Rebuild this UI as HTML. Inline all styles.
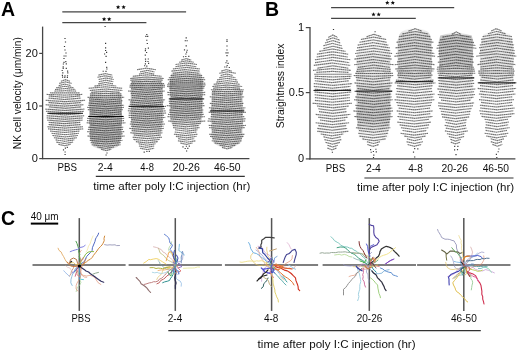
<!DOCTYPE html>
<html><head><meta charset="utf-8"><style>
html,body{margin:0;padding:0;background:#fff;}
svg{display:block;}
</style></head><body>
<svg width="520" height="352" viewBox="0 0 520 352">
<rect width="520" height="352" fill="#fff"/>
<defs><filter id="gb" x="0" y="0" width="100%" height="100%"><feGaussianBlur stdDeviation="0.3"/></filter></defs>
<g font-family='"Liberation Sans", sans-serif' filter="url(#gb)">
<text x="1.0" y="16.0" font-size="19.5" text-anchor="start" font-weight="bold" fill="#000" >A</text>
<text x="264.9" y="16.0" font-size="19.5" text-anchor="start" font-weight="bold" fill="#000" >B</text>
<text x="0.9" y="225.0" font-size="19.5" text-anchor="start" font-weight="bold" fill="#000" >C</text>
<line x1="42.6" y1="26.6" x2="42.6" y2="159.2" stroke="#444" stroke-width="1.3"/>
<line x1="42.3" y1="158.6" x2="249.4" y2="158.6" stroke="#444" stroke-width="1.3"/>
<line x1="39.2" y1="53.4" x2="42.6" y2="53.4" stroke="#444" stroke-width="1.2"/>
<text x="37.8" y="57.199999999999996" font-size="11.0" text-anchor="end" font-weight="normal" fill="#111" >20</text>
<line x1="39.2" y1="106.0" x2="42.6" y2="106.0" stroke="#444" stroke-width="1.2"/>
<text x="37.8" y="109.8" font-size="11.0" text-anchor="end" font-weight="normal" fill="#111" >10</text>
<line x1="39.2" y1="158.6" x2="42.6" y2="158.6" stroke="#444" stroke-width="1.2"/>
<text x="37.8" y="162.4" font-size="11.0" text-anchor="end" font-weight="normal" fill="#111" >0</text>
<text transform="translate(21.2,149.2) rotate(-90)" font-size="10.2" fill="#111" textLength="112" lengthAdjust="spacingAndGlyphs">NK cell velocity (μm/min)</text>
<text x="67.2" y="171.4" font-size="10.6" text-anchor="middle" font-weight="normal" fill="#111" textLength="19.5" lengthAdjust="spacingAndGlyphs" >PBS</text>
<text x="105.2" y="171.4" font-size="10.6" text-anchor="middle" font-weight="normal" fill="#111" textLength="15" lengthAdjust="spacingAndGlyphs" >2-4</text>
<text x="147.1" y="171.4" font-size="10.6" text-anchor="middle" font-weight="normal" fill="#111" textLength="13.5" lengthAdjust="spacingAndGlyphs" >4-8</text>
<text x="186.3" y="171.4" font-size="10.6" text-anchor="middle" font-weight="normal" fill="#111" textLength="27" lengthAdjust="spacingAndGlyphs" >20-26</text>
<text x="227.2" y="171.4" font-size="10.6" text-anchor="middle" font-weight="normal" fill="#111" textLength="26.6" lengthAdjust="spacingAndGlyphs" >46-50</text>
<line x1="95.8" y1="176.4" x2="244.8" y2="176.4" stroke="#333" stroke-width="1.2"/>
<text x="93.2" y="189.6" font-size="11.2" text-anchor="start" font-weight="normal" fill="#111" textLength="157.2" lengthAdjust="spacingAndGlyphs" >time after poly I:C injection (hr)</text>
<line x1="62.3" y1="11.9" x2="186.1" y2="11.9" stroke="#444" stroke-width="1.25"/>
<line x1="62.3" y1="22.7" x2="146.4" y2="22.7" stroke="#444" stroke-width="1.25"/>
<polygon points="118.10,4.90 118.71,6.36 120.29,6.49 119.08,7.52 119.45,9.06 118.10,8.23 116.75,9.06 117.12,7.52 115.91,6.49 117.49,6.36" fill="#111"/>
<polygon points="123.60,4.90 124.21,6.36 125.79,6.49 124.58,7.52 124.95,9.06 123.60,8.23 122.25,9.06 122.62,7.52 121.41,6.49 122.99,6.36" fill="#111"/>
<polygon points="104.10,16.90 104.71,18.36 106.29,18.49 105.08,19.52 105.45,21.06 104.10,20.23 102.75,21.06 103.12,19.52 101.91,18.49 103.49,18.36" fill="#111"/>
<polygon points="109.20,16.90 109.81,18.36 111.39,18.49 110.18,19.52 110.55,21.06 109.20,20.23 107.85,21.06 108.22,19.52 107.01,18.49 108.59,18.36" fill="#111"/>
<line x1="310.0" y1="27.0" x2="310.0" y2="159.4" stroke="#444" stroke-width="1.3"/>
<line x1="309.4" y1="158.9" x2="515.4" y2="158.9" stroke="#444" stroke-width="1.3"/>
<line x1="305.8" y1="27.6" x2="310.0" y2="27.6" stroke="#444" stroke-width="1.2"/>
<text x="304.2" y="31.400000000000002" font-size="11.0" text-anchor="end" font-weight="normal" fill="#111" >1</text>
<line x1="305.8" y1="92.6" x2="310.0" y2="92.6" stroke="#444" stroke-width="1.2"/>
<text x="304.2" y="96.39999999999999" font-size="11.0" text-anchor="end" font-weight="normal" fill="#111" textLength="15.4" lengthAdjust="spacingAndGlyphs" >0.5</text>
<line x1="305.8" y1="158.9" x2="310.0" y2="158.9" stroke="#444" stroke-width="1.2"/>
<text x="304.2" y="161.9" font-size="11.0" text-anchor="end" font-weight="normal" fill="#111" >0</text>
<text transform="translate(284.0,128.2) rotate(-90)" font-size="10.2" fill="#111" textLength="84.6" lengthAdjust="spacingAndGlyphs">Straightness index</text>
<text x="335.6" y="172.2" font-size="10.6" text-anchor="middle" font-weight="normal" fill="#111" textLength="19.5" lengthAdjust="spacingAndGlyphs" >PBS</text>
<text x="373.4" y="172.2" font-size="10.6" text-anchor="middle" font-weight="normal" fill="#111" textLength="15" lengthAdjust="spacingAndGlyphs" >2-4</text>
<text x="415.5" y="172.2" font-size="10.6" text-anchor="middle" font-weight="normal" fill="#111" textLength="14.5" lengthAdjust="spacingAndGlyphs" >4-8</text>
<text x="454.8" y="172.2" font-size="10.6" text-anchor="middle" font-weight="normal" fill="#111" textLength="26.5" lengthAdjust="spacingAndGlyphs" >20-26</text>
<text x="495.8" y="172.2" font-size="10.6" text-anchor="middle" font-weight="normal" fill="#111" textLength="26.3" lengthAdjust="spacingAndGlyphs" >46-50</text>
<line x1="364.4" y1="178.0" x2="513.5" y2="178.0" stroke="#333" stroke-width="1.2"/>
<text x="357.0" y="190.8" font-size="11.2" text-anchor="start" font-weight="normal" fill="#111" textLength="157.2" lengthAdjust="spacingAndGlyphs" >time after poly I:C injection (hr)</text>
<line x1="331.1" y1="7.7" x2="454.2" y2="7.7" stroke="#444" stroke-width="1.25"/>
<line x1="331.1" y1="18.3" x2="415.8" y2="18.3" stroke="#444" stroke-width="1.25"/>
<polygon points="387.30,0.50 387.91,1.96 389.49,2.09 388.28,3.12 388.65,4.66 387.30,3.83 385.95,4.66 386.32,3.12 385.11,2.09 386.69,1.96" fill="#111"/>
<polygon points="392.80,0.50 393.41,1.96 394.99,2.09 393.78,3.12 394.15,4.66 392.80,3.83 391.45,4.66 391.82,3.12 390.61,2.09 392.19,1.96" fill="#111"/>
<polygon points="373.50,12.20 374.11,13.66 375.69,13.79 374.48,14.82 374.85,16.36 373.50,15.54 372.15,16.36 372.52,14.82 371.31,13.79 372.89,13.66" fill="#111"/>
<polygon points="378.70,12.20 379.31,13.66 380.89,13.79 379.68,14.82 380.05,16.36 378.70,15.54 377.35,16.36 377.72,14.82 376.51,13.79 378.09,13.66" fill="#111"/>
<defs><filter id="bl" x="-5%" y="-5%" width="110%" height="110%"><feGaussianBlur stdDeviation="0.35"/></filter></defs>
<g filter="url(#bl)">
<linearGradient id="g_A_PBS" gradientUnits="userSpaceOnUse" x1="0" y1="72" x2="0" y2="147"><stop offset="0.000" stop-color="#000" stop-opacity="0.000"/><stop offset="0.160" stop-color="#000" stop-opacity="0.000"/><stop offset="0.267" stop-color="#000" stop-opacity="0.000"/><stop offset="0.373" stop-color="#000" stop-opacity="0.040"/><stop offset="0.507" stop-color="#000" stop-opacity="0.076"/><stop offset="0.707" stop-color="#000" stop-opacity="0.066"/><stop offset="0.840" stop-color="#000" stop-opacity="0.004"/><stop offset="0.973" stop-color="#000" stop-opacity="0.000"/><stop offset="1.000" stop-color="#000" stop-opacity="0.000"/></linearGradient>
<polygon points="62.6,72.0 62.4,78.0 60.1,84.0 55.6,87.0 54.6,91.0 49.6,94.0 48.6,98.0 48.1,105.0 49.6,122.0 49.2,127.0 50.7,131.0 52.7,135.0 54.1,138.0 55.6,141.0 57.6,144.0 62.4,147.0 67.7,147.0 72.4,144.0 74.4,141.0 75.9,138.0 77.3,135.0 79.3,131.0 80.8,127.0 80.4,122.0 81.9,105.0 81.4,98.0 80.4,94.0 75.4,91.0 74.4,87.0 69.9,84.0 67.7,78.0 67.4,72.0" fill="url(#g_A_PBS)"/>
<linearGradient id="g_A_24" gradientUnits="userSpaceOnUse" x1="0" y1="70.8" x2="0" y2="151.8"><stop offset="0.000" stop-color="#000" stop-opacity="0.000"/><stop offset="0.200" stop-color="#000" stop-opacity="0.000"/><stop offset="0.299" stop-color="#000" stop-opacity="0.118"/><stop offset="0.385" stop-color="#000" stop-opacity="0.263"/><stop offset="0.854" stop-color="#000" stop-opacity="0.273"/><stop offset="0.953" stop-color="#000" stop-opacity="0.128"/><stop offset="1.000" stop-color="#000" stop-opacity="0.000"/></linearGradient>
<polygon points="104.2,70.8 98.2,74.8 99.7,77.6 100.4,80.5 97.7,83.9 90.2,87.3 92.4,90.0 90.2,93.0 90.4,96.4 89.2,100.0 89.2,122.0 89.7,131.0 89.7,138.0 91.2,141.0 92.4,144.0 93.3,146.7 100.4,149.5 103.2,151.8 108.0,151.8 110.8,149.5 117.9,146.7 118.8,144.0 120.0,141.0 121.5,138.0 121.5,131.0 122.0,122.0 122.0,100.0 120.8,96.4 121.0,93.0 118.8,90.0 121.0,87.3 113.5,83.9 110.8,80.5 111.5,77.6 113.0,74.8 107.0,70.8" fill="url(#g_A_24)"/>
<linearGradient id="g_A_48" gradientUnits="userSpaceOnUse" x1="0" y1="55.6" x2="0" y2="152"><stop offset="0.000" stop-color="#000" stop-opacity="0.000"/><stop offset="0.118" stop-color="#000" stop-opacity="0.000"/><stop offset="0.201" stop-color="#000" stop-opacity="0.000"/><stop offset="0.274" stop-color="#000" stop-opacity="0.170"/><stop offset="0.336" stop-color="#000" stop-opacity="0.222"/><stop offset="0.720" stop-color="#000" stop-opacity="0.211"/><stop offset="0.793" stop-color="#000" stop-opacity="0.118"/><stop offset="0.876" stop-color="#000" stop-opacity="0.024"/><stop offset="0.979" stop-color="#000" stop-opacity="0.000"/><stop offset="1.000" stop-color="#000" stop-opacity="0.000"/></linearGradient>
<polygon points="145.0,55.6 144.7,62.4 139.0,67.0 140.2,69.4 142.2,72.2 133.9,74.5 131.9,77.3 131.7,80.2 131.1,84.7 130.7,96.0 130.9,117.6 131.2,122.7 131.9,127.8 132.4,131.6 132.9,136.0 134.7,139.3 136.6,142.5 139.9,145.7 139.9,148.8 144.6,152.0 149.1,152.0 153.7,148.8 153.7,145.7 157.0,142.5 159.0,139.3 160.7,136.0 161.2,131.6 161.7,127.8 162.5,122.7 162.7,117.6 163.0,96.0 162.6,84.7 162.0,80.2 161.7,77.3 159.7,74.5 151.5,72.2 153.5,69.4 154.6,67.0 148.9,62.4 148.6,55.6" fill="url(#g_A_48)"/>
<linearGradient id="g_A_2026" gradientUnits="userSpaceOnUse" x1="0" y1="57.2" x2="0" y2="145.5"><stop offset="0.000" stop-color="#000" stop-opacity="0.000"/><stop offset="0.000" stop-color="#000" stop-opacity="0.000"/><stop offset="0.122" stop-color="#000" stop-opacity="0.000"/><stop offset="0.213" stop-color="#000" stop-opacity="0.170"/><stop offset="0.281" stop-color="#000" stop-opacity="0.242"/><stop offset="0.655" stop-color="#000" stop-opacity="0.232"/><stop offset="0.734" stop-color="#000" stop-opacity="0.128"/><stop offset="0.824" stop-color="#000" stop-opacity="0.024"/><stop offset="0.994" stop-color="#000" stop-opacity="0.000"/><stop offset="1.000" stop-color="#000" stop-opacity="0.000"/></linearGradient>
<polygon points="181.5,57.2 183.5,59.4 177.8,61.7 177.5,65.1 172.4,68.0 173.6,70.8 171.3,73.6 169.8,80.0 169.8,110.0 170.5,117.0 170.4,122.0 172.5,125.6 174.8,129.9 175.4,134.8 178.3,138.4 179.3,141.9 181.8,145.5 190.6,145.5 193.1,141.9 194.1,138.4 197.0,134.8 197.6,129.9 199.8,125.6 201.9,122.0 201.8,117.0 202.6,110.0 202.6,80.0 201.1,73.6 198.8,70.8 199.9,68.0 194.8,65.1 194.6,61.7 188.8,59.4 190.8,57.2" fill="url(#g_A_2026)"/>
<linearGradient id="g_A_4650" gradientUnits="userSpaceOnUse" x1="0" y1="64.1" x2="0" y2="148.3"><stop offset="0.000" stop-color="#000" stop-opacity="0.000"/><stop offset="0.023" stop-color="#000" stop-opacity="0.000"/><stop offset="0.189" stop-color="#000" stop-opacity="0.000"/><stop offset="0.331" stop-color="#000" stop-opacity="0.128"/><stop offset="0.426" stop-color="#000" stop-opacity="0.180"/><stop offset="0.878" stop-color="#000" stop-opacity="0.180"/><stop offset="0.961" stop-color="#000" stop-opacity="0.128"/><stop offset="1.000" stop-color="#000" stop-opacity="0.000"/><stop offset="1.000" stop-color="#000" stop-opacity="0.000"/></linearGradient>
<polygon points="224.9,64.1 224.3,66.4 225.1,68.7 220.8,71.6 222.1,74.5 218.3,78.5 215.8,82.0 214.4,85.3 213.6,88.8 212.4,92.7 211.6,98.4 211.1,104.0 211.2,117.0 210.8,124.0 211.6,131.0 211.2,137.0 213.1,140.5 213.7,143.3 218.7,146.2 222.6,148.3 231.4,148.3 235.3,146.2 240.3,143.3 240.9,140.5 242.8,137.0 242.4,131.0 243.2,124.0 242.8,117.0 242.9,104.0 242.4,98.4 241.6,92.7 240.4,88.8 239.6,85.3 238.2,82.0 235.7,78.5 231.9,74.5 233.2,71.6 228.9,68.7 229.7,66.4 229.1,64.1" fill="url(#g_A_4650)"/>
<linearGradient id="g_B_PBS" gradientUnits="userSpaceOnUse" x1="0" y1="36.4" x2="0" y2="149.7"><stop offset="0.000" stop-color="#000" stop-opacity="0.000"/><stop offset="0.032" stop-color="#000" stop-opacity="0.000"/><stop offset="0.297" stop-color="#000" stop-opacity="0.020"/><stop offset="0.826" stop-color="#000" stop-opacity="0.020"/><stop offset="1.000" stop-color="#000" stop-opacity="0.000"/><stop offset="1.000" stop-color="#000" stop-opacity="0.000"/></linearGradient>
<polygon points="327.9,36.4 326.6,39.8 325.1,43.2 323.6,46.6 321.1,49.4 318.1,52.8 316.6,55.7 317.1,59.0 317.1,62.5 315.6,70.0 315.6,105.0 319.1,110.7 320.1,112.8 317.8,115.7 318.9,118.5 320.1,121.3 317.6,124.9 318.6,127.7 319.6,130.6 316.6,132.7 322.8,135.5 324.1,138.4 324.9,141.2 326.6,144.0 328.6,147.6 329.6,149.7 335.4,149.7 336.4,147.6 338.4,144.0 340.1,141.2 340.9,138.4 342.2,135.5 348.4,132.7 345.4,130.6 346.4,127.7 347.4,124.9 344.9,121.3 346.1,118.5 347.2,115.7 344.9,112.8 345.9,110.7 349.4,105.0 349.4,70.0 347.9,62.5 347.9,59.0 348.4,55.7 346.9,52.8 343.9,49.4 341.4,46.6 339.9,43.2 338.4,39.8 337.1,36.4" fill="url(#g_B_PBS)"/>
<linearGradient id="g_B_24" gradientUnits="userSpaceOnUse" x1="0" y1="29.7" x2="0" y2="151.1"><stop offset="0.000" stop-color="#000" stop-opacity="0.000"/><stop offset="0.002" stop-color="#000" stop-opacity="0.000"/><stop offset="0.126" stop-color="#000" stop-opacity="0.029"/><stop offset="0.250" stop-color="#000" stop-opacity="0.097"/><stop offset="0.431" stop-color="#000" stop-opacity="0.097"/><stop offset="0.513" stop-color="#000" stop-opacity="0.185"/><stop offset="0.727" stop-color="#000" stop-opacity="0.214"/><stop offset="0.810" stop-color="#000" stop-opacity="0.117"/><stop offset="0.867" stop-color="#000" stop-opacity="0.029"/><stop offset="1.000" stop-color="#000" stop-opacity="0.000"/></linearGradient>
<polygon points="371.6,29.7 371.6,31.8 366.2,34.6 361.6,37.5 362.1,40.3 360.6,43.1 359.1,46.0 359.1,49.5 357.1,52.4 357.1,55.9 356.4,60.0 356.6,111.4 356.3,115.7 357.1,119.9 357.4,124.2 357.4,128.4 359.1,132.7 358.1,137.0 363.1,140.5 368.4,144.0 369.8,146.9 371.2,151.1 375.8,151.1 377.2,146.9 378.6,144.0 383.9,140.5 388.9,137.0 387.9,132.7 389.6,128.4 389.6,124.2 389.9,119.9 390.7,115.7 390.4,111.4 390.6,60.0 389.9,55.9 389.9,52.4 387.9,49.5 387.9,46.0 386.4,43.1 384.9,40.3 385.4,37.5 380.8,34.6 375.4,31.8 375.4,29.7" fill="url(#g_B_24)"/>
<linearGradient id="g_B_48" gradientUnits="userSpaceOnUse" x1="0" y1="27.7" x2="0" y2="150.4"><stop offset="0.000" stop-color="#000" stop-opacity="0.000"/><stop offset="0.002" stop-color="#000" stop-opacity="0.005"/><stop offset="0.059" stop-color="#000" stop-opacity="0.155"/><stop offset="0.385" stop-color="#000" stop-opacity="0.155"/><stop offset="0.475" stop-color="#000" stop-opacity="0.039"/><stop offset="0.915" stop-color="#000" stop-opacity="0.005"/><stop offset="1.000" stop-color="#000" stop-opacity="0.000"/></linearGradient>
<polygon points="411.8,27.7 405.3,29.8 401.1,31.9 399.3,34.8 398.6,37.6 397.6,40.0 397.6,108.0 399.3,111.4 398.6,115.7 399.3,119.9 400.3,124.2 402.8,128.4 404.9,132.0 400.8,135.5 408.5,139.8 407.4,143.3 409.9,146.9 412.8,150.4 416.6,150.4 419.5,146.9 421.9,143.3 420.9,139.8 428.6,135.5 424.4,132.0 426.6,128.4 429.1,124.2 430.1,119.9 430.8,115.7 430.1,111.4 431.8,108.0 431.8,40.0 430.8,37.6 430.1,34.8 428.3,31.9 424.1,29.8 417.6,27.7" fill="url(#g_B_48)"/>
<linearGradient id="g_B_2026" gradientUnits="userSpaceOnUse" x1="0" y1="32.6" x2="0" y2="145.2"><stop offset="0.000" stop-color="#000" stop-opacity="0.029"/><stop offset="0.000" stop-color="#000" stop-opacity="0.000"/><stop offset="0.030" stop-color="#000" stop-opacity="0.233"/><stop offset="0.288" stop-color="#000" stop-opacity="0.223"/><stop offset="0.385" stop-color="#000" stop-opacity="0.102"/><stop offset="0.599" stop-color="#000" stop-opacity="0.029"/><stop offset="1.000" stop-color="#000" stop-opacity="0.000"/></linearGradient>
<polygon points="451.6,32.6 440.2,35.5 439.6,38.3 438.8,41.0 439.6,98.0 442.2,101.7 440.1,106.8 442.2,112.0 443.1,117.0 445.6,122.2 447.4,127.3 446.1,132.4 449.9,136.7 451.6,141.0 453.4,145.2 458.6,145.2 460.4,141.0 462.1,136.7 465.9,132.4 464.6,127.3 466.4,122.2 468.9,117.0 469.8,112.0 471.9,106.8 469.8,101.7 472.4,98.0 473.2,41.0 472.4,38.3 471.8,35.5 460.4,32.6" fill="url(#g_B_2026)"/>
<linearGradient id="g_B_4650" gradientUnits="userSpaceOnUse" x1="0" y1="28.4" x2="0" y2="150.3"><stop offset="0.000" stop-color="#000" stop-opacity="0.000"/><stop offset="0.013" stop-color="#000" stop-opacity="0.000"/><stop offset="0.095" stop-color="#000" stop-opacity="0.097"/><stop offset="0.382" stop-color="#000" stop-opacity="0.107"/><stop offset="0.505" stop-color="#000" stop-opacity="0.020"/><stop offset="1.000" stop-color="#000" stop-opacity="0.000"/></linearGradient>
<polygon points="493.9,28.4 488.9,31.9 483.4,34.0 483.4,36.9 481.4,40.4 480.7,44.7 479.9,50.0 480.4,96.0 481.4,101.7 481.4,108.5 481.9,114.5 484.9,120.5 485.6,125.6 487.4,130.7 486.9,135.8 491.6,141.0 493.7,146.0 495.4,150.3 498.2,150.3 499.9,146.0 502.0,141.0 506.7,135.8 506.2,130.7 508.0,125.6 508.7,120.5 511.7,114.5 512.2,108.5 512.2,101.7 513.2,96.0 513.7,50.0 512.9,44.7 512.2,40.4 510.2,36.9 510.2,34.0 504.7,31.9 499.7,28.4" fill="url(#g_B_4650)"/>
<path d="M58.3 144.3L64.5 145.7L70.7 144.3M56.3 142.1L64.7 143.5L73.1 142.1M55.6 139.9L65.0 141.3L74.3 139.9M53.9 137.7L65.4 139.1L76.9 137.7M52.4 135.5L65.2 136.9L77.9 135.5M51.5 133.3L65.2 134.7L78.9 133.3M50.1 131.1L64.7 132.5L79.4 131.1M48.0 128.9L65.6 130.3L83.2 128.9M47.4 126.7L65.2 128.1L83.1 126.7M48.6 124.5L64.7 125.9L80.8 124.5M48.6 122.3L64.5 123.7L80.3 122.3M47.2 120.1L64.9 121.5L82.5 120.1M46.7 117.9L64.9 119.3L83.0 117.9M46.6 115.7L65.4 117.1L84.2 115.7M49.5 113.5L64.7 114.9L79.8 113.5M45.9 111.3L65.0 112.7L84.0 111.3M45.3 109.1L64.9 110.5L84.4 109.1M49.2 106.9L65.2 108.3L81.1 106.9M45.6 104.7L64.7 106.1L83.8 104.7M48.6 102.5L64.8 103.9L81.0 102.5M45.6 100.3L65.3 101.7L85.1 100.3M48.6 98.1L64.7 99.5L80.8 98.1M48.7 96.0L64.5 97.3L80.2 96.0M46.6 94.4L64.6 95.1L82.6 94.4M49.9 92.8L64.9 92.9L79.9 92.8M54.5 91.1L65.3 90.7L76.1 91.1M55.0 89.5L65.2 88.5L75.3 89.5M56.1 87.8L64.9 86.3L73.7 87.8M58.7 85.6L64.7 84.1L70.8 85.6M59.2 83.4L65.4 81.9L71.6 83.4M60.9 81.2L65.5 79.7L70.0 81.2M101.1 149.2L106.2 150.6L111.3 149.2M97.2 147.0L105.7 148.4L114.1 147.0M91.6 144.8L106.1 146.2L120.6 144.8M90.7 142.6L105.8 144.0L121.0 142.6M89.8 140.4L106.1 141.8L122.4 140.4M90.1 138.2L105.8 139.6L121.5 138.2M87.4 136.0L106.0 137.4L124.7 136.0M89.2 133.8L105.9 135.2L122.7 133.8M87.2 131.6L105.7 133.0L124.2 131.6M87.9 129.4L105.5 130.8L123.0 129.4M88.2 127.2L105.7 128.6L123.3 127.2M90.2 125.0L105.8 126.4L121.4 125.0M86.6 122.8L106.1 124.2L125.5 122.8M87.0 120.6L105.5 122.0L124.0 120.6M87.2 118.4L105.7 119.8L124.2 118.4M88.7 116.2L106.0 117.6L123.3 116.2M90.1 114.0L105.9 115.4L121.7 114.0M90.1 111.8L105.7 113.2L121.3 111.8M87.8 109.6L105.3 111.0L122.7 109.6M87.2 107.4L105.6 108.8L124.0 107.4M88.1 105.2L106.1 106.6L124.1 105.2M88.5 103.0L105.0 104.4L121.6 103.0M89.1 100.8L105.8 102.2L122.5 100.8M88.9 98.9L105.2 100.0L121.5 98.9M87.4 97.3L105.8 97.8L124.2 97.3M89.9 95.7L106.1 95.6L122.2 95.7M89.9 94.0L105.8 93.4L121.7 94.0M91.3 92.4L105.5 91.2L119.7 92.4M89.8 90.5L106.1 89.0L122.4 90.5M88.6 88.3L105.5 86.8L122.4 88.3M94.4 86.1L105.4 84.6L116.4 86.1M98.2 83.9L105.6 82.4L113.0 83.9M98.8 81.7L106.0 80.2L113.3 81.7M98.6 79.5L106.1 78.0L113.7 79.5M97.4 77.3L105.2 75.8L113.0 77.3M98.4 75.1L105.3 73.6L112.3 75.1M139.9 148.2L147.1 149.6L154.2 148.2M138.9 146.0L146.5 147.4L154.2 146.0M138.6 143.8L147.0 145.2L155.5 143.8M135.9 141.6L146.9 143.0L158.0 141.6M133.4 139.4L146.7 140.8L159.9 139.4M132.6 137.2L147.3 138.6L162.0 137.2M133.9 135.0L147.3 136.4L160.8 135.0M130.2 132.8L146.4 134.2L162.5 132.8M131.6 130.6L147.0 132.0L162.3 130.6M129.3 128.4L146.7 129.8L164.0 128.4M130.9 126.2L147.3 127.6L163.6 126.2M129.8 124.0L147.3 125.4L164.9 124.0M130.4 121.8L147.0 123.2L163.6 121.8M131.3 119.6L147.1 121.0L162.8 119.6M128.7 117.4L147.0 118.8L165.3 117.4M128.5 115.2L146.5 116.6L164.4 115.2M128.7 113.0L147.4 114.4L166.1 113.0M127.8 110.8L146.8 112.2L165.9 110.8M128.3 108.6L146.6 110.0L164.9 108.6M128.4 106.4L147.2 107.8L166.1 106.4M129.7 104.2L146.3 105.6L162.9 104.2M129.9 102.0L146.9 103.4L163.8 102.0M128.4 99.8L146.8 101.2L165.1 99.8M131.8 97.6L147.2 99.0L162.5 97.6M131.6 95.4L147.2 96.8L162.7 95.4M130.7 93.2L146.6 94.6L162.5 93.2M128.0 91.0L146.4 92.4L164.7 91.0M131.1 88.8L146.8 90.2L162.5 88.8M129.3 87.0L147.2 88.0L165.1 87.0M129.6 85.3L147.3 85.8L165.0 85.3M130.6 83.6L147.3 83.6L164.1 83.6M131.6 81.9L146.5 81.4L161.3 81.9M130.2 80.2L146.5 79.2L162.9 80.2M130.2 78.5L147.0 77.0L163.7 78.5M132.8 76.3L147.2 74.8L161.6 76.3M139.0 74.1L146.6 72.6L154.2 74.1M140.1 71.9L147.2 70.4L154.4 71.9M137.0 69.7L146.4 68.2L155.9 69.7M180.3 143.0L186.4 144.4L192.5 143.0M177.9 140.8L186.8 142.2L195.6 140.8M178.2 138.6L186.2 140.0L194.2 138.6M175.9 136.4L186.2 137.8L196.5 136.4M173.9 134.2L185.8 135.6L197.8 134.2M174.7 132.0L185.7 133.4L196.7 132.0M175.1 129.8L186.3 131.2L197.4 129.8M173.1 127.6L186.3 129.0L199.5 127.6M172.8 125.4L185.8 126.8L198.9 125.4M172.2 123.2L186.6 124.6L201.0 123.2M168.1 121.0L186.7 122.4L205.3 121.0M170.4 118.8L185.7 120.2L200.9 118.8M167.5 116.6L186.2 118.0L204.8 116.6M168.0 114.4L186.0 115.8L204.0 114.4M169.2 112.2L186.2 113.6L203.3 112.2M169.2 110.0L186.3 111.4L203.4 110.0M170.9 107.8L186.4 109.2L202.0 107.8M166.8 105.6L185.8 107.0L204.8 105.6M169.1 103.4L186.5 104.8L203.8 103.4M168.7 101.2L185.8 102.6L203.0 101.2M170.1 99.0L186.2 100.4L202.4 99.0M171.1 96.8L186.7 98.2L202.2 96.8M167.6 94.6L186.4 96.0L205.2 94.6M167.3 92.4L186.4 93.8L205.4 92.4M169.2 90.2L186.3 91.6L203.5 90.2M169.2 88.2L186.8 89.4L204.3 88.2M167.1 86.5L185.9 87.2L204.7 86.5M167.2 84.9L186.5 85.0L205.7 84.9M167.9 83.2L186.6 82.8L205.3 83.2M169.5 81.5L186.7 80.6L203.8 81.5M167.7 79.8L186.4 78.4L205.2 79.8M168.8 77.7L186.5 76.2L204.3 77.7M170.6 75.5L186.5 74.0L202.3 75.5M172.8 73.3L186.0 71.8L199.2 73.3M171.4 71.1L185.6 69.6L199.8 71.1M172.9 68.9L186.4 67.4L199.8 68.9M175.4 66.7L185.9 65.2L196.3 66.7M175.5 64.5L186.4 63.0L197.3 64.5M179.1 62.3L186.4 60.8L193.7 62.3M181.3 60.1L186.2 58.6L191.2 60.1M222.0 147.4L227.1 148.8L232.3 147.4M219.5 145.2L227.5 146.6L235.6 145.2M214.6 143.0L227.0 144.4L239.5 143.0M211.7 140.8L226.8 142.2L241.9 140.8M212.6 138.6L227.2 140.0L241.8 138.6M210.0 136.4L226.7 137.8L243.5 136.4M209.1 134.2L226.8 135.6L244.5 134.2M211.9 132.0L226.7 133.4L241.5 132.0M211.8 129.8L226.6 131.2L241.4 129.8M209.1 127.6L226.9 129.0L244.7 127.6M208.7 125.4L227.3 126.8L245.9 125.4M212.2 123.2L227.6 124.6L243.0 123.2M207.5 121.0L226.5 122.4L245.5 121.0M208.2 118.8L226.9 120.2L245.6 118.8M210.7 116.6L227.6 118.0L244.5 116.6M211.1 114.4L227.0 115.8L242.9 114.4M208.6 112.2L227.3 113.6L246.0 112.2M210.7 110.0L227.6 111.4L244.4 110.0M208.9 107.8L227.1 109.2L245.4 107.8M211.7 105.6L227.1 107.0L242.6 105.6M209.8 103.4L226.6 104.8L243.5 103.4M211.9 101.2L227.0 102.6L242.2 101.2M211.7 99.0L226.9 100.4L242.2 99.0M209.7 96.8L226.9 98.2L244.1 96.8M211.8 94.6L227.1 96.0L242.4 94.6M211.7 93.0L227.3 93.8L243.0 93.0M212.0 91.4L227.6 91.6L243.2 91.4M210.9 89.8L227.3 89.4L243.7 89.8M213.1 88.2L226.5 87.2L239.9 88.2M212.3 86.5L227.3 85.0L242.3 86.5M213.6 84.3L226.8 82.8L240.0 84.3M216.4 82.1L227.2 80.6L238.1 82.1M217.1 79.9L227.1 78.4L237.2 79.9M219.2 77.7L227.3 76.2L235.4 77.7M220.6 75.5L226.7 74.0L232.8 75.5M219.2 73.3L227.5 71.8L235.8 73.3M221.3 71.1L226.4 69.6L231.6 71.1M327.3 148.0L332.0 149.8L336.7 148.0M327.4 145.2L332.6 147.0L337.7 145.2M325.5 142.4L332.7 144.2L339.9 142.4M324.4 139.6L332.8 141.4L341.3 139.6M323.4 136.8L332.2 138.6L340.9 136.8M320.7 134.0L332.0 135.8L343.3 134.0M317.1 131.2L332.8 133.0L348.4 131.2M317.3 128.4L332.2 130.2L347.2 128.4M318.4 125.6L332.3 127.4L346.3 125.6M315.6 122.8L332.3 124.6L349.1 122.8M320.0 120.0L332.8 121.8L345.5 120.0M318.1 117.2L333.0 119.0L347.9 117.2M315.7 114.4L333.0 116.2L350.3 114.4M319.0 111.6L332.9 113.4L346.8 111.6M318.3 108.8L332.3 110.6L346.3 108.8M317.0 106.0L333.0 107.8L349.0 106.0M312.5 103.2L332.2 105.0L351.9 103.2M314.9 100.4L332.3 102.2L349.8 100.4M314.9 97.6L332.4 99.4L349.8 97.6M314.6 94.8L332.1 96.6L349.7 94.8M314.5 92.0L332.9 93.8L351.2 92.0M314.7 89.2L332.9 91.0L351.1 89.2M313.8 86.4L332.1 88.2L350.4 86.4M313.8 83.6L333.0 85.4L352.1 83.6M314.8 80.8L331.9 82.6L349.0 80.8M314.4 78.3L332.6 79.8L350.7 78.3M314.7 76.3L333.1 77.0L351.4 76.3M314.2 74.3L332.9 74.2L351.5 74.3M316.4 72.4L332.6 71.4L348.7 72.4M313.0 70.4L332.0 68.6L351.0 70.4M317.3 68.2L332.8 65.8L348.3 68.2M313.8 65.4L332.0 63.0L350.2 65.4M315.0 62.6L332.1 60.2L349.2 62.6M314.9 59.8L332.7 57.4L350.5 59.8M316.6 57.0L332.2 54.6L347.7 57.0M316.9 54.2L332.5 51.8L348.2 54.2M319.3 51.4L332.4 49.0L345.5 51.4M323.4 48.6L333.1 46.2L342.7 48.6M323.3 45.8L332.5 43.4L341.7 45.8M325.0 43.0L332.8 40.6L340.5 43.0M326.1 40.2L333.0 37.8L339.9 40.2M328.3 37.4L332.9 35.0L337.5 37.4M367.3 144.5L373.1 146.3L378.9 144.5M366.9 141.7L373.5 143.5L380.0 141.7M362.4 138.9L374.0 140.7L385.6 138.9M359.4 136.1L373.0 137.9L386.7 136.1M358.2 133.3L373.2 135.1L388.1 133.3M359.0 130.5L373.8 132.3L388.5 130.5M355.9 127.7L373.2 129.5L390.4 127.7M357.2 124.9L373.2 126.7L389.3 124.9M357.8 122.1L373.8 123.9L389.8 122.1M356.9 119.3L373.6 121.1L390.3 119.3M354.3 116.5L373.5 118.3L392.7 116.5M356.7 113.7L374.0 115.5L391.2 113.7M353.4 110.9L373.3 112.7L393.2 110.9M355.8 108.1L374.0 109.9L392.3 108.1M355.2 105.3L373.2 107.1L391.1 105.3M357.9 102.5L374.0 104.3L390.2 102.5M354.0 99.7L373.4 101.5L392.7 99.7M355.3 96.9L373.5 98.7L391.7 96.9M356.9 94.1L374.1 95.9L391.2 94.1M354.4 91.3L373.2 93.1L392.0 91.3M357.4 88.5L373.5 90.3L389.5 88.5M356.3 85.7L373.9 87.5L391.5 85.7M354.5 82.9L373.6 84.7L392.7 82.9M356.4 80.1L373.1 81.9L389.8 80.1M355.8 77.5L373.2 79.1L390.6 77.5M353.7 75.5L373.5 76.3L393.3 75.5M355.3 73.4L374.1 73.5L392.9 73.4M356.3 71.4L373.5 70.7L390.8 71.4M357.1 69.4L373.8 67.9L390.6 69.4M357.8 67.4L373.9 65.1L390.0 67.4M354.1 64.7L373.9 62.3L393.6 64.7M356.8 61.9L373.2 59.5L389.6 61.9M354.4 59.1L373.0 56.7L391.6 59.1M356.0 56.3L373.5 53.9L390.9 56.3M355.1 53.5L373.6 51.1L392.1 53.5M356.3 50.7L373.3 48.3L390.2 50.7M357.0 47.9L373.4 45.5L389.8 47.9M357.7 45.1L373.0 42.7L388.3 45.1M359.4 42.3L373.2 39.9L386.9 42.3M360.9 39.5L373.5 37.1L386.2 39.5M366.5 36.7L373.9 34.3L381.3 36.7M407.6 144.5L414.4 146.3L421.3 144.5M406.5 141.7L414.7 143.5L423.0 141.7M407.0 138.9L414.5 140.7L422.0 138.9M404.3 136.1L414.9 137.9L425.5 136.1M400.5 133.3L414.3 135.1L428.1 133.3M402.5 130.5L414.5 132.3L426.5 130.5M400.9 127.7L414.8 129.5L428.6 127.7M399.6 124.9L414.5 126.7L429.4 124.9M397.3 122.1L414.2 123.9L431.1 122.1M399.3 119.3L414.2 121.1L429.1 119.3M397.4 116.5L414.9 118.3L432.5 116.5M398.6 113.7L414.6 115.5L430.6 113.7M396.7 110.9L414.8 112.7L432.9 110.9M398.7 108.1L414.4 109.9L430.0 108.1M397.4 105.3L414.2 107.1L431.1 105.3M396.3 102.5L414.2 104.3L432.1 102.5M394.5 99.7L414.6 101.5L434.7 99.7M396.5 96.9L414.9 98.7L433.2 96.9M395.7 94.1L415.1 95.9L434.5 94.1M396.7 91.3L414.5 93.1L432.3 91.3M396.2 88.5L414.1 90.3L432.0 88.5M397.1 85.7L414.9 87.5L432.8 85.7M394.7 82.9L415.0 84.7L435.4 82.9M395.9 80.1L414.8 81.9L433.8 80.1M398.3 77.3L414.5 79.1L430.7 77.3M397.3 75.1L414.9 76.3L432.5 75.1M398.0 73.1L414.6 73.5L431.1 73.1M396.7 71.0L415.0 70.7L433.4 71.0M395.2 69.0L414.8 67.9L434.5 69.0M398.2 67.0L415.0 65.1L431.8 67.0M394.7 64.7L414.8 62.3L434.8 64.7M397.1 61.9L414.7 59.5L432.3 61.9M398.2 59.1L415.0 56.7L431.7 59.1M394.3 56.3L414.7 53.9L435.1 56.3M395.9 53.5L415.1 51.1L434.3 53.5M398.3 50.7L415.2 48.3L432.2 50.7M395.5 47.9L414.3 45.5L433.2 47.9M397.9 45.1L414.4 42.7L430.9 45.1M396.4 42.3L414.9 39.9L433.5 42.3M398.7 39.5L415.2 37.1L431.7 39.5M398.9 36.7L414.7 34.3L430.4 36.7M402.4 33.9L415.3 31.5L428.1 33.9M408.4 31.1L415.2 28.7L422.0 31.1M450.8 142.1L455.5 143.9L460.2 142.1M450.4 139.3L455.6 141.1L460.8 139.3M448.8 136.5L456.5 138.3L464.2 136.5M446.9 133.7L455.8 135.5L464.6 133.7M444.9 130.9L456.3 132.7L467.7 130.9M445.8 128.1L456.1 129.9L466.4 128.1M444.6 125.3L455.4 127.1L466.2 125.3M445.7 122.5L456.0 124.3L466.2 122.5M444.8 119.7L455.9 121.5L466.9 119.7M442.0 116.9L455.6 118.7L469.2 116.9M441.3 114.1L455.7 115.9L470.1 114.1M440.8 111.3L455.8 113.1L470.8 111.3M439.3 108.5L455.4 110.3L471.6 108.5M438.1 105.7L455.6 107.5L473.0 105.7M438.2 102.9L456.1 104.7L474.1 102.9M441.0 100.1L455.9 101.9L470.8 100.1M439.0 97.3L456.2 99.1L473.5 97.3M437.7 94.5L456.3 96.3L474.9 94.5M439.0 91.7L456.6 93.5L474.1 91.7M437.4 88.9L456.4 90.7L475.5 88.9M438.6 86.1L455.9 87.9L473.2 86.1M438.5 83.3L456.5 85.1L474.5 83.3M438.2 80.5L456.0 82.3L473.9 80.5M439.0 77.7L456.5 79.5L474.0 77.7M438.4 75.2L455.5 76.7L472.6 75.2M437.6 73.2L456.5 73.9L475.3 73.2M437.2 71.2L456.1 71.1L475.0 71.2M436.7 69.2L455.8 68.3L474.8 69.2M437.1 67.3L455.5 65.5L473.9 67.3M439.5 65.1L455.9 62.7L472.4 65.1M437.8 62.3L455.9 59.9L474.0 62.3M440.0 59.5L456.2 57.1L472.4 59.5M437.4 56.7L455.7 54.3L473.9 56.7M438.5 53.9L455.9 51.5L473.2 53.9M438.4 51.1L455.5 48.7L472.6 51.1M436.5 48.3L456.6 45.9L476.6 48.3M437.4 45.5L456.4 43.1L475.5 45.5M438.6 42.7L456.4 40.3L474.2 42.7M440.1 39.9L456.3 37.5L472.5 39.9M442.4 37.1L456.5 34.7L470.6 37.1M451.7 34.3L456.4 31.9L461.0 34.3M492.4 144.4L497.4 146.2L502.3 144.4M490.8 141.6L496.4 143.4L502.1 141.6M490.7 138.8L497.3 140.6L504.0 138.8M486.1 136.0L496.4 137.8L506.8 136.0M484.6 133.2L496.6 135.0L508.6 133.2M485.6 130.4L496.4 132.2L507.2 130.4M485.2 127.6L497.4 129.4L509.6 127.6M485.7 124.8L497.0 126.6L508.2 124.8M485.5 122.0L497.3 123.8L509.1 122.0M484.6 119.2L496.3 121.0L508.0 119.2M481.5 116.4L496.6 118.2L511.6 116.4M480.1 113.6L497.2 115.4L514.4 113.6M479.3 110.8L496.4 112.6L513.4 110.8M480.1 108.0L497.3 109.8L514.6 108.0M479.9 105.2L496.3 107.0L512.7 105.2M481.1 102.4L496.6 104.2L512.1 102.4M479.0 99.6L496.4 101.4L513.9 99.6M480.7 96.8L496.5 98.6L512.3 96.8M478.9 94.0L497.1 95.8L515.4 94.0M479.9 91.2L497.0 93.0L514.0 91.2M477.7 88.4L496.9 90.2L516.1 88.4M480.0 85.6L496.6 87.4L513.1 85.6M477.6 82.8L497.0 84.6L516.5 82.8M480.2 80.0L497.0 81.8L513.7 80.0M481.4 77.2L497.4 79.0L513.4 77.2M479.3 75.1L496.8 76.2L514.3 75.1M478.3 73.1L496.3 73.4L514.2 73.1M478.3 71.1L496.5 70.6L514.8 71.1M480.4 69.1L497.2 67.8L514.0 69.1M480.4 67.0L496.5 65.0L512.7 67.0M477.5 64.6L496.5 62.2L515.5 64.6M479.9 61.8L496.9 59.4L513.9 61.8M480.6 59.0L497.3 56.6L513.9 59.0M476.2 56.2L496.2 53.8L516.3 56.2M479.2 53.4L497.1 51.0L515.0 53.4M480.0 50.6L497.3 48.2L514.6 50.6M479.0 47.8L496.4 45.4L513.8 47.8M479.8 45.0L497.0 42.6L514.1 45.0M481.3 42.2L497.0 39.8L512.7 42.2M481.2 39.4L496.8 37.0L512.5 39.4M482.6 36.6L497.2 34.2L511.9 36.6M487.9 33.8L496.8 31.4L505.8 33.8M491.2 31.0L496.4 28.6L501.6 31.0" stroke="#000" stroke-opacity="0.55" stroke-width="1.15" stroke-dasharray="1.7 0.3" fill="none"/>
<path d="M64.5 152.0h1.2M62.9 149.9h1.2M64.8 148.1h1.2M66.7 147.4h1.2M62.0 77.1h1.2M64.2 77.3h1.2M66.8 77.3h1.2M61.8 75.4h1.2M64.4 75.8h1.2M66.9 75.7h1.2M62.2 72.8h1.2M67.2 72.8h1.2M61.6 70.5h1.2M67.0 71.1h1.2M62.6 68.4h1.2M65.7 68.4h1.2M62.6 66.9h1.2M62.8 64.0h1.2M65.7 63.9h1.2M63.4 62.3h1.2M65.2 61.6h1.2M106.4 153.0h1.2M102.6 71.2h1.2M105.4 71.4h1.2M106.3 69.0h1.2M106.1 67.3h1.2M143.6 152.1h1.2M146.3 151.5h1.2M148.7 151.3h1.2M144.0 65.7h1.2M146.2 66.1h1.2M144.8 63.9h1.2M148.0 63.4h1.2M145.0 61.4h1.2M147.4 61.5h1.2M144.9 59.1h1.2M147.7 59.0h1.2M144.7 55.1h1.2M146.0 52.5h1.2M144.8 50.6h1.2M144.9 48.8h1.2M147.8 48.1h1.2M184.6 148.5h1.2M187.2 148.4h1.2M182.4 146.9h1.2M185.8 146.2h1.2M188.7 146.1h1.2M182.9 56.7h1.2M185.2 56.5h1.2M188.2 56.3h1.2M185.3 54.0h1.2M186.0 52.1h1.2M183.9 49.9h1.2M186.6 50.2h1.2M224.2 67.0h1.2M226.1 67.0h1.2M228.7 67.5h1.2M226.6 65.5h1.2M225.4 62.7h1.2M227.5 63.3h1.2M226.3 60.8h1.2M331.8 152.2h1.2M373.2 155.1h1.2M370.6 152.2h1.2M372.8 151.5h1.2M375.7 151.8h1.2M370.0 149.6h1.2M375.3 149.2h1.2M374.5 31.7h1.2M412.9 152.1h1.2M414.1 148.6h1.2M417.2 148.8h1.2M454.0 149.9h1.2M456.9 149.6h1.2M454.1 146.4h1.2M457.3 146.4h1.2M495.8 154.3h1.2M497.6 151.7h1.2M498.3 149.0h1.2" stroke="#000" stroke-opacity="0.75" stroke-width="1.15" stroke-dasharray="1.7 0.3" fill="none"/>
<path d="M64.5 154.5h1.2M64.4 38.5h1.2M64.9 42.0h1.2M63.9 46.5h1.2M64.4 50.0h1.2M65.4 53.0h1.2M63.5 56.0h1.2M65.3 56.0h1.2M63.4 58.5h1.2M105.5 155.0h1.2M104.5 26.5h1.2M105.0 43.3h1.2M105.0 47.8h1.2M105.0 50.5h1.2M106.0 52.4h1.2M104.0 54.0h1.2M105.5 56.4h1.2M105.0 62.3h1.2M146.2 34.5h1.2M145.3 36.3h1.2M147.1 36.3h1.2M146.2 40.2h1.2M146.7 43.5h1.2M186.0 151.0h1.2M185.6 37.8h1.2M184.7 40.7h1.2M186.5 40.7h1.2M185.6 45.8h1.2M226.4 39.7h1.2M226.4 41.4h1.2M226.4 46.0h1.2M226.4 50.0h1.2M225.5 52.8h1.2M227.3 52.8h1.2M226.4 55.6h1.2M332.9 29.5h1.2M372.9 157.5h1.2M414.1 157.0h1.2M455.4 154.6h1.2M496.2 157.5h1.2" stroke="#000" stroke-opacity="0.8" stroke-width="1.15" stroke-dasharray="1.7 0.3" fill="none"/>
</g>
<line x1="47.4" y1="113.3" x2="83.0" y2="113.3" stroke="#000" stroke-width="0.95"/>
<line x1="88.2" y1="116.5" x2="123.6" y2="116.5" stroke="#000" stroke-width="0.95"/>
<line x1="129.1" y1="106.3" x2="164.0" y2="106.3" stroke="#000" stroke-width="0.95"/>
<line x1="168.8" y1="98.9" x2="204.2" y2="98.9" stroke="#000" stroke-width="0.95"/>
<line x1="209.9" y1="111.0" x2="244.2" y2="111.0" stroke="#000" stroke-width="0.95"/>
<line x1="313.5" y1="90.4" x2="351.1" y2="90.4" stroke="#000" stroke-width="0.95"/>
<line x1="355.7" y1="91.1" x2="392.3" y2="91.1" stroke="#000" stroke-width="0.95"/>
<line x1="395.7" y1="81.7" x2="433.20000000000005" y2="81.7" stroke="#000" stroke-width="0.95"/>
<line x1="437.79999999999995" y1="77.9" x2="474.3" y2="77.9" stroke="#000" stroke-width="0.95"/>
<line x1="478.4" y1="82.8" x2="515.6" y2="82.8" stroke="#000" stroke-width="0.95"/>
<line x1="30.8" y1="223.6" x2="58.2" y2="223.6" stroke="#000" stroke-width="2.0"/>
<text x="30.8" y="219.8" font-size="10.6" text-anchor="start" font-weight="normal" fill="#111" textLength="27.8" lengthAdjust="spacingAndGlyphs" >40 μm</text>
<line x1="32.5" y1="264.9" x2="125.6" y2="264.9" stroke="#555" stroke-width="1.5"/>
<line x1="79.3" y1="218.1" x2="79.3" y2="310.9" stroke="#555" stroke-width="1.5"/>
<line x1="128.6" y1="264.9" x2="221.9" y2="264.9" stroke="#555" stroke-width="1.5"/>
<line x1="175.3" y1="218.1" x2="175.3" y2="310.9" stroke="#555" stroke-width="1.5"/>
<line x1="224.9" y1="264.9" x2="318.1" y2="264.9" stroke="#555" stroke-width="1.5"/>
<line x1="271.6" y1="218.1" x2="271.6" y2="310.9" stroke="#555" stroke-width="1.5"/>
<line x1="322.6" y1="264.9" x2="416.0" y2="264.9" stroke="#555" stroke-width="1.5"/>
<line x1="369.3" y1="218.1" x2="369.3" y2="310.9" stroke="#555" stroke-width="1.5"/>
<line x1="417.1" y1="264.9" x2="510.5" y2="264.9" stroke="#555" stroke-width="1.5"/>
<line x1="463.8" y1="218.1" x2="463.8" y2="310.9" stroke="#555" stroke-width="1.5"/>
<text x="81" y="322.4" font-size="10.2" text-anchor="middle" font-weight="normal" fill="#111" textLength="19" lengthAdjust="spacingAndGlyphs" >PBS</text>
<text x="175" y="322.4" font-size="10.2" text-anchor="middle" font-weight="normal" fill="#111" textLength="14.5" lengthAdjust="spacingAndGlyphs" >2-4</text>
<text x="271.2" y="322.4" font-size="10.2" text-anchor="middle" font-weight="normal" fill="#111" textLength="14.5" lengthAdjust="spacingAndGlyphs" >4-8</text>
<text x="369.5" y="322.4" font-size="10.2" text-anchor="middle" font-weight="normal" fill="#111" textLength="25.6" lengthAdjust="spacingAndGlyphs" >20-26</text>
<text x="463.9" y="322.4" font-size="10.2" text-anchor="middle" font-weight="normal" fill="#111" textLength="25.8" lengthAdjust="spacingAndGlyphs" >46-50</text>
<line x1="168.3" y1="330.7" x2="480.8" y2="330.7" stroke="#333" stroke-width="1.2"/>
<text x="257.6" y="347.8" font-size="11.2" text-anchor="start" font-weight="normal" fill="#111" textLength="158" lengthAdjust="spacingAndGlyphs" >time after poly I:C injection (hr)</text>
<g fill="none" stroke-linejoin="round" stroke-linecap="round">
<path d="M79.2 265.8 L79.8 268.9 L79.2 271.6 L78.6 273.9 L79.7 276.2 L80.5 278.1 L80.3 280.5 L80.9 282.5 L79.7 285.3 L77.4 287.1 L76.7 289.5 L76.2 291.6" stroke="#a0d090" stroke-width="0.85" stroke-opacity="0.8"/>
<path d="M78.0 266.7 L79.1 269.2 L79.9 271.5 L80.7 273.7 L83.5 275.4 L86.6 276.0 L90.0 275.3 L93.0 276.3 L95.2 278.1 L96.3 280.0 L98.1 282.7 L100.9 284.5" stroke="#e09070" stroke-width="0.85" stroke-opacity="0.8"/>
<path d="M79.1 265.6 L76.8 267.0 L74.8 269.6 L74.2 272.6 L72.6 273.9 L71.8 276.7 L71.0 279.4 L70.8 282.8 L72.2 285.5" stroke="#60a0d0" stroke-width="0.85" stroke-opacity="0.8"/>
<path d="M80.4 265.5 L79.8 263.3 L80.5 261.2 L80.9 259.0 L79.7 256.5 L79.2 254.2 L80.0 252.1 L81.3 250.5" stroke="#e09070" stroke-width="0.85" stroke-opacity="0.8"/>
<path d="M79.4 265.6 L80.4 267.5 L80.6 270.6 L80.9 273.9 L82.4 275.7 L84.6 277.1 L86.7 277.3" stroke="#e09070" stroke-width="0.85" stroke-opacity="0.8"/>
<path d="M79.8 264.9 L81.3 266.8 L81.3 269.6 L80.7 271.6 L81.0 274.8 L79.9 278.0 L78.7 280.3 L77.0 283.1 L76.1 285.7 L76.1 288.9 L78.0 291.2" stroke="#e09070" stroke-width="0.85" stroke-opacity="0.8"/>
<path d="M174.6 265.0 L174.9 268.0 L174.2 271.1 L174.8 273.2 L175.7 275.3 L176.3 278.4 L177.9 279.9 L180.1 281.0 L181.4 283.3 L181.2 286.2" stroke="#80b0e0" stroke-width="0.85" stroke-opacity="0.8"/>
<path d="M174.4 265.1 L174.7 262.2 L175.0 259.1 L173.4 256.2 L171.3 253.6 L169.3 251.6 L168.5 249.4 L169.5 246.6 L171.0 244.8 L171.6 241.8" stroke="#a0d090" stroke-width="0.85" stroke-opacity="0.8"/>
<path d="M176.3 266.4 L173.9 268.1 L171.4 269.9 L168.9 269.8 L166.3 268.9 L164.3 268.1 L162.0 265.5 L160.0 264.0 L159.5 261.9 L158.0 260.5" stroke="#70a0a0" stroke-width="0.85" stroke-opacity="0.8"/>
<path d="M175.3 266.8 L173.9 264.4 L172.3 262.4 L170.5 261.4 L168.3 260.4 L165.9 258.4 L164.4 256.1 L162.4 254.5 L160.0 252.8 L159.4 250.8 L158.5 248.2" stroke="#b0b060" stroke-width="0.85" stroke-opacity="0.8"/>
<path d="M176.5 266.3 L174.7 263.8 L173.3 260.9 L171.3 259.0 L169.6 257.3 L167.3 255.7 L165.2 253.0 L163.1 252.1 L161.3 249.6 L159.3 248.7 L156.6 247.5 L153.5 246.8" stroke="#d0a0a0" stroke-width="0.85" stroke-opacity="0.8"/>
<path d="M176.8 264.5 L174.4 266.3 L172.2 267.2 L169.8 266.6 L166.5 267.0 L164.0 268.7 L162.5 271.2 L161.9 273.6 L159.8 275.4 L157.8 277.5 L156.8 279.5" stroke="#e0c060" stroke-width="0.85" stroke-opacity="0.8"/>
<path d="M175.7 264.3 L177.9 262.0 L180.9 261.4 L182.6 259.2 L182.8 256.3 L183.5 254.1 L182.6 251.5" stroke="#9090c0" stroke-width="0.85" stroke-opacity="0.8"/>
<path d="M273.0 265.1 L271.8 266.9 L269.1 268.7 L267.4 269.8 L265.9 272.0 L264.5 273.8" stroke="#e0c060" stroke-width="0.85" stroke-opacity="0.8"/>
<path d="M272.9 267.2 L275.2 265.9 L278.7 265.8 L280.9 266.3 L283.6 266.8 L286.3 267.5 L288.9 268.9 L291.2 268.9 L294.0 268.1 L295.8 265.5" stroke="#d0a0a0" stroke-width="0.85" stroke-opacity="0.8"/>
<path d="M270.7 264.8 L271.0 262.7 L269.7 260.3 L269.1 257.4 L267.7 255.8 L267.4 253.0 L266.7 250.0 L266.9 247.2" stroke="#e0c060" stroke-width="0.85" stroke-opacity="0.8"/>
<path d="M271.1 265.2 L268.3 265.7 L266.1 265.7 L263.4 265.0 L260.2 265.6 L257.0 264.8 L254.9 263.7 L252.8 261.1 L250.7 258.4 L250.8 255.8 L252.8 253.1" stroke="#e0c060" stroke-width="0.85" stroke-opacity="0.8"/>
<path d="M270.1 265.6 L267.6 265.4 L265.5 264.6 L264.1 262.2 L262.7 260.3 L261.3 258.3 L259.4 255.9 L259.2 252.5 L258.0 249.8 L256.3 247.4" stroke="#e09070" stroke-width="0.85" stroke-opacity="0.8"/>
<path d="M271.8 267.5 L275.2 266.8 L278.3 267.2 L281.0 266.5 L284.2 265.0 L285.8 263.5 L288.4 262.0 L290.7 260.6 L292.0 258.7 L292.4 255.5" stroke="#e09070" stroke-width="0.85" stroke-opacity="0.8"/>
<path d="M271.6 265.3 L268.4 265.9 L266.0 266.9 L264.3 268.3 L263.2 270.3 L263.2 272.3 L262.0 275.4 L261.7 278.6 L261.6 281.3" stroke="#c090d0" stroke-width="0.85" stroke-opacity="0.8"/>
<path d="M272.5 265.9 L273.9 267.7 L275.8 269.3 L277.7 271.2 L278.7 273.1 L280.2 274.5 L282.0 277.1 L283.4 278.8" stroke="#60a0d0" stroke-width="0.85" stroke-opacity="0.8"/>
<path d="M271.9 265.5 L272.9 262.7 L272.4 259.5 L271.0 256.8 L269.4 255.1 L266.9 254.1 L265.1 252.6 L263.7 250.5 L262.7 248.2 L261.0 246.7 L258.0 246.3" stroke="#c090d0" stroke-width="0.85" stroke-opacity="0.8"/>
<path d="M368.0 266.3 L364.9 266.4 L362.2 266.1 L358.8 265.8 L355.9 266.0 L353.3 265.7 L350.2 266.0 L347.5 265.8 L345.2 265.5 L343.5 264.5" stroke="#9090c0" stroke-width="0.85" stroke-opacity="0.8"/>
<path d="M370.3 266.3 L371.3 263.8 L371.0 260.6 L370.2 258.2 L368.8 256.7 L366.8 255.8 L364.0 254.1 L361.9 253.7 L359.8 253.2 L356.6 252.9 L353.7 253.8" stroke="#b0b060" stroke-width="0.85" stroke-opacity="0.8"/>
<path d="M367.9 266.3 L369.4 268.0 L371.4 270.6 L373.1 273.0 L375.5 273.7 L378.9 273.7 L382.0 273.1 L383.8 271.0 L386.8 270.1 L389.1 269.7" stroke="#60a0d0" stroke-width="0.85" stroke-opacity="0.8"/>
<path d="M370.1 264.8 L367.9 265.1 L365.1 266.1 L362.5 266.5 L360.5 265.9 L358.4 265.9 L355.3 266.8 L353.1 266.6" stroke="#e0c060" stroke-width="0.85" stroke-opacity="0.8"/>
<path d="M369.0 264.8 L366.2 263.4 L364.6 261.1 L361.4 259.8 L358.0 259.9 L356.1 259.2 L353.5 257.9" stroke="#70a0a0" stroke-width="0.85" stroke-opacity="0.8"/>
<path d="M368.4 266.7 L367.0 268.6 L366.4 272.0 L368.0 274.8 L368.1 278.2 L369.1 280.6 L368.8 282.8" stroke="#9090c0" stroke-width="0.85" stroke-opacity="0.8"/>
<path d="M370.5 264.5 L368.9 267.5 L367.0 268.7 L364.0 269.7 L360.6 270.0 L358.5 269.0 L357.4 266.7" stroke="#d0a0a0" stroke-width="0.85" stroke-opacity="0.8"/>
<path d="M370.3 266.3 L370.3 263.9 L369.2 260.9 L368.7 257.9 L369.4 254.6 L371.7 252.3" stroke="#9090c0" stroke-width="0.85" stroke-opacity="0.8"/>
<path d="M369.3 266.1 L366.8 265.3 L364.7 264.1 L362.1 264.0 L360.3 265.0 L359.0 267.3 L357.4 268.7" stroke="#c090d0" stroke-width="0.85" stroke-opacity="0.8"/>
<path d="M368.1 265.5 L366.4 267.2 L363.2 268.5 L360.9 269.3 L359.5 271.5 L356.8 273.3 L354.1 275.4 L351.7 275.6 L349.1 276.5" stroke="#e09070" stroke-width="0.85" stroke-opacity="0.8"/>
<path d="M462.9 264.5 L464.0 266.1 L465.7 267.7 L467.7 268.9 L470.9 268.4 L473.2 266.8 L476.1 265.2 L479.0 265.2 L481.8 263.7 L483.5 260.7 L484.1 258.4 L483.7 255.9" stroke="#e09070" stroke-width="0.85" stroke-opacity="0.8"/>
<path d="M464.5 266.2 L465.9 269.1 L465.9 271.4 L464.3 273.8 L461.8 274.9 L458.5 275.3 L455.9 277.0 L454.2 278.2" stroke="#70a0a0" stroke-width="0.85" stroke-opacity="0.8"/>
<path d="M465.0 264.3 L466.2 261.1 L468.6 258.7 L470.2 257.5 L473.6 256.6 L476.6 256.0 L478.6 253.3 L481.8 252.0 L483.9 252.5" stroke="#9090c0" stroke-width="0.85" stroke-opacity="0.8"/>
<path d="M463.4 265.8 L461.5 267.3 L459.0 268.9 L456.5 268.6 L454.8 267.2 L454.0 264.3 L453.3 261.3 L452.3 258.3 L450.8 256.0" stroke="#9090c0" stroke-width="0.85" stroke-opacity="0.8"/>
<path d="M464.2 266.7 L461.4 268.4 L458.9 269.2 L455.8 269.0 L453.0 269.6 L450.2 269.2 L447.6 267.8 L446.5 265.7 L445.7 262.3" stroke="#e0c060" stroke-width="0.85" stroke-opacity="0.8"/>
<path d="M465.2 264.5 L467.6 262.5 L469.6 260.5 L470.6 258.4 L472.9 256.6 L474.9 255.7 L477.4 253.3" stroke="#60a0d0" stroke-width="0.85" stroke-opacity="0.8"/>
<path d="M465.3 264.5 L468.7 265.0 L470.7 266.2 L473.1 267.4 L475.4 269.3 L478.2 270.4 L480.2 270.9 L482.8 270.9 L485.5 269.6 L488.8 270.4 L491.8 271.7 L494.4 272.9" stroke="#c090d0" stroke-width="0.85" stroke-opacity="0.8"/>
<path d="M462.5 265.1 L460.5 267.0 L459.4 269.0 L456.6 270.6 L455.2 273.2 L453.2 274.4 L450.9 275.3 L447.8 276.5" stroke="#c090d0" stroke-width="0.85" stroke-opacity="0.8"/>
<path d="M462.6 266.9 L465.1 265.5 L467.1 262.7 L468.1 260.5 L470.8 258.2 L471.9 255.0 L472.5 252.1 L471.6 249.1 L470.7 247.1" stroke="#d0a0a0" stroke-width="0.85" stroke-opacity="0.8"/>
<path d="M98.6 233.1 L98.0 234.9 L96.3 237.5 L95.5 239.0 L94.9 241.7 L93.5 245.0 L92.4 247.7 L92.1 250.5 L90.4 252.6 L88.0 255.0 L86.6 256.6 L85.5 258.9 L84.6 261.5 L82.1 263.0 L80.0 265.5" stroke="#5068c0" stroke-width="1.0" stroke-opacity="1"/>
<path d="M104.6 236.1 L104.0 238.4 L104.2 240.8 L103.0 243.3 L102.0 245.0 L100.3 246.7 L98.3 248.9 L96.9 251.0 L95.5 252.8 L93.5 255.3 L92.4 257.2 L90.4 259.2 L88.1 260.4 L86.3 262.0 L84.6 262.6 L82.1 264.5 L80.0 265.5" stroke="#d08838" stroke-width="1.0" stroke-opacity="1"/>
<path d="M104.6 244.6 L107.1 245.1 L110.0 244.8 L112.0 245.0 L115.0 244.8 L116.6 245.6 L119.5 245.5" stroke="#9898b8" stroke-width="1.0" stroke-opacity="0.9"/>
<path d="M76.0 241.3 L77.0 243.5 L77.9 246.3 L78.8 249.3 L78.8 252.2 L79.8 254.4 L79.2 256.3 L80.0 259.1 L80.0 261.5 L79.6 265.0" stroke="#50a050" stroke-width="1.0" stroke-opacity="1"/>
<path d="M70.2 251.7 L72.7 250.7 L75.7 249.8 L77.7 249.3 L80.1 247.5 L83.2 246.8 L85.2 245.3" stroke="#8080e0" stroke-width="1.0" stroke-opacity="1"/>
<path d="M58.1 248.2 L59.0 250.4 L61.2 252.0 L62.0 254.0 L63.6 256.6 L65.1 259.5 L66.2 261.5 L69.0 263.5" stroke="#e0a860" stroke-width="1.0" stroke-opacity="0.85"/>
<path d="M69.5 263.5 L70.5 259.5 L73.5 258.0 L76.5 259.5 L77.5 263.0 L79.0 265.5" stroke="#b06838" stroke-width="1.0" stroke-opacity="0.9"/>
<path d="M70.5 262.5 L71.5 261.5" stroke="#202020" stroke-width="1.5" stroke-opacity="1"/>
<path d="M93.6 251.6 L90.3 251.6 L88.0 252.2 L85.6 254.2 L84.0 257.0 L82.2 259.4 L81.2 261.5 L79.8 265.0" stroke="#88b848" stroke-width="1.0" stroke-opacity="1"/>
<path d="M93.0 236.0 L91.6 239.2 L90.8 241.5 L90.0 244.0 L88.5 246.1 L87.8 248.5 L87.2 250.2 L86.0 252.0" stroke="#f0e088" stroke-width="1.0" stroke-opacity="0.6"/>
<path d="M79.4 266.1 L81.2 267.4 L84.1 269.4 L86.0 271.0 L88.6 272.0 L90.8 274.1 L93.0 275.5 L95.2 277.0 L96.4 277.9 L98.5 279.5 L101.1 281.3 L103.7 282.2" stroke="#303060" stroke-width="1.2" stroke-opacity="1"/>
<path d="M92.7 274.2 L95.5 273.2 L98.5 272.4" stroke="#90a890" stroke-width="1.0" stroke-opacity="1"/>
<path d="M79.4 266.5 L79.6 269.0 L79.6 272.0 L80.0 273.9 L79.7 277.2 L79.4 279.3" stroke="#4890c8" stroke-width="1.0" stroke-opacity="1"/>
<path d="M81.0 279.3 L83.5 279.6" stroke="#60c8e0" stroke-width="1.0" stroke-opacity="1"/>
<path d="M63.8 270.7 L64.9 272.1 L67.0 274.0 L69.6 276.5" stroke="#98b8e8" stroke-width="1.0" stroke-opacity="0.85"/>
<path d="M69.6 275.9 L70.9 273.8 L71.5 271.0 L73.2 268.5 L74.2 266.1 L77.0 264.5" stroke="#c09080" stroke-width="1.0" stroke-opacity="0.85"/>
<path d="M66.0 266.0 L67.7 267.4 L70.0 268.0 L71.4 270.5 L73.0 272.0" stroke="#e0c0c0" stroke-width="1.0" stroke-opacity="0.7"/>
<path d="M67.0 262.0 L68.0 263.3 L70.0 265.5 L72.2 266.4 L74.5 266.5 L78.5 266.0" stroke="#c87838" stroke-width="1.0" stroke-opacity="1"/>
<path d="M164.4 234.3 L166.6 235.9 L168.8 238.0 L169.4 240.3 L170.0 243.0 L172.5 244.9 L171.7 247.0 L170.0 249.3 L172.5 252.4 L173.8 255.5 L174.1 258.1 L175.0 260.5 L175.3 264.0" stroke="#6080d0" stroke-width="1.0" stroke-opacity="1"/>
<path d="M143.7 263.1 L146.2 261.6 L148.8 259.4 L150.6 259.7 L153.2 259.1 L156.1 258.6 L158.1 259.0 L160.4 260.5 L162.7 261.9 L166.0 264.0" stroke="#f0d060" stroke-width="1.0" stroke-opacity="0.9"/>
<path d="M166.2 260.8 L167.0 257.7 L168.0 255.4 L168.5 252.7 L170.8 251.5 L172.1 253.3 L173.0 256.0 L174.0 259.2 L174.0 262.0" stroke="#f0a040" stroke-width="1.0" stroke-opacity="0.9"/>
<path d="M179.4 244.3 L179.1 247.5 L178.8 250.5 L180.6 251.8 L182.3 253.2 L184.4 254.9" stroke="#80c0e0" stroke-width="1.0" stroke-opacity="1"/>
<path d="M174.4 250.5 L173.7 253.3 L173.1 255.5 L173.6 257.5 L175.0 260.5 L177.0 262.0 L178.0 258.0 L176.5 255.0" stroke="#3848b0" stroke-width="1.0" stroke-opacity="1"/>
<path d="M173.0 262.0 L174.9 264.4 L176.0 266.0 L179.0 263.0 L180.0 264.9 L182.0 266.5 L178.0 268.0" stroke="#8870c0" stroke-width="1.0" stroke-opacity="1"/>
<path d="M136.2 277.5 L137.8 279.2 L139.9 281.3 L141.1 283.7 L143.1 285.0 L145.2 286.5 L147.0 288.2 L148.6 290.3 L150.6 292.5" stroke="#907070" stroke-width="1.1" stroke-opacity="1"/>
<path d="M144.2 284.4 L146.0 284.0 L149.2 282.9 L151.4 282.6 L153.6 281.7 L155.7 281.8 L158.1 281.0 L159.3 279.2 L161.6 278.3 L163.2 276.7 L164.5 275.4 L166.2 273.5 L167.8 271.9 L169.3 270.6 L171.2 269.0 L173.1 267.7" stroke="#c08080" stroke-width="1.0" stroke-opacity="1"/>
<path d="M156.9 283.8 L159.2 282.8 L160.7 280.5 L163.5 279.1 L165.0 278.0 L166.9 275.9 L168.4 275.1 L170.4 273.2 L171.9 271.2 L173.4 269.3 L174.5 267.0" stroke="#c06060" stroke-width="1.0" stroke-opacity="1"/>
<path d="M174.8 266.5 L175.5 269.7 L175.8 272.0 L175.6 274.5 L174.8 278.0 L175.2 280.2 L176.0 283.0 L175.4 285.3 L175.4 288.5" stroke="#303050" stroke-width="1.3" stroke-opacity="1"/>
<path d="M162.7 282.7 L164.6 281.9 L167.8 281.1 L169.6 280.4 L170.2 278.9 L171.9 276.6 L173.0 274.6 L173.4 271.9 L173.5 270.1 L174.5 268.0" stroke="#309090" stroke-width="1.0" stroke-opacity="1"/>
<path d="M150.0 267.7 L153.5 267.6 L156.0 268.5 L158.1 268.1 L160.7 268.3 L162.7 268.8 L164.8 267.8 L167.0 267.5 L170.0 267.0" stroke="#b0b040" stroke-width="1.0" stroke-opacity="1"/>
<path d="M158.0 270.6 L161.2 269.9 L164.0 270.0 L167.5 269.4 L170.0 268.0" stroke="#f0a860" stroke-width="1.0" stroke-opacity="0.8"/>
<path d="M183.5 268.3 L187.2 268.1 L190.0 268.0 L192.2 268.0 L194.5 267.9 L197.6 267.0 L199.6 267.1" stroke="#e8e8a0" stroke-width="1.0" stroke-opacity="0.9"/>
<path d="M152.3 272.3 L154.6 272.8 L157.1 272.4 L158.7 273.0 L161.5 273.5 L163.3 273.2 L165.9 272.4 L168.0 271.0" stroke="#a0d0e0" stroke-width="1.0" stroke-opacity="0.8"/>
<path d="M176.5 265.0 L177.5 266.9 L179.0 269.0 L181.0 271.0 L178.0 272.0" stroke="#e08080" stroke-width="1.0" stroke-opacity="1"/>
<path d="M182.3 251.5 L182.1 254.4 L181.2 257.0 L181.3 259.7 L181.2 263.0" stroke="#7090c0" stroke-width="1.0" stroke-opacity="1"/>
<path d="M168.0 272.0 L169.1 274.5 L171.0 276.0 L171.2 273.2 L172.0 270.0" stroke="#50b060" stroke-width="1.0" stroke-opacity="1"/>
<path d="M274.2 237.9 L270.0 237.3 L265.7 237.3 L263.9 238.7 L261.7 240.2 L261.7 242.9 L260.8 245.0 L261.1 247.0 L259.0 248.0" stroke="#404040" stroke-width="1.2" stroke-opacity="1"/>
<path d="M258.9 248.1 L262.3 248.7 L262.8 252.7 L264.5 254.1 L266.0 256.0 L267.5 258.0 L269.1 259.5 L271.0 263.0" stroke="#3040a0" stroke-width="1.2" stroke-opacity="1"/>
<path d="M248.6 242.5 L250.0 245.0 L250.2 246.3 L250.8 248.8 L252.3 251.0 L253.2 252.7 L256.3 253.5 L258.9 255.0 L260.7 256.4 L262.4 258.1 L264.5 259.5 L266.4 261.5 L269.0 263.0" stroke="#70b0e0" stroke-width="1.0" stroke-opacity="1"/>
<path d="M269.5 251.0 L273.0 250.0 L276.4 248.9" stroke="#c0a070" stroke-width="1.0" stroke-opacity="1"/>
<path d="M240.0 262.0 L242.0 262.3 L245.2 261.7 L247.8 261.2 L250.0 261.0 L252.3 261.1 L255.0 261.3 L256.7 260.8 L258.7 261.1 L261.3 260.7 L263.5 261.3 L265.5 262.4 L268.0 263.0" stroke="#f0e088" stroke-width="1.0" stroke-opacity="0.9"/>
<path d="M283.2 262.5 L284.3 259.4 L285.2 257.0 L286.6 254.5 L288.8 253.8 L290.8 252.0 L292.4 250.2 L295.1 249.4 L296.3 252.3 L296.2 254.6 L295.2 257.9 L294.7 259.6 L294.0 262.5" stroke="#404090" stroke-width="1.1" stroke-opacity="1"/>
<path d="M287.2 242.6 L289.0 244.7 L290.2 247.3 L291.1 248.9" stroke="#e0b0d0" stroke-width="1.0" stroke-opacity="0.8"/>
<path d="M275.6 266.4 L278.0 267.7 L280.6 267.8 L282.7 269.2 L284.4 270.1 L287.3 270.9 L289.5 272.2 L291.2 273.5 L293.5 275.9 L295.5 277.8 L295.9 280.4 L296.6 282.3 L297.6 284.8 L298.1 286.6 L298.3 289.1 L299.7 290.6" stroke="#d03020" stroke-width="1.1" stroke-opacity="1"/>
<path d="M272.0 265.0 L273.9 265.2 L276.9 265.7 L279.0 266.0 L281.3 267.2 L284.7 268.1 L287.0 268.5 L289.6 268.3 L292.0 269.0" stroke="#e06030" stroke-width="1.2" stroke-opacity="1"/>
<path d="M272.0 268.0 L274.5 269.0 L278.0 270.0 L280.4 268.4 L283.0 266.0 L280.2 265.5 L278.3 265.2 L276.0 264.0" stroke="#e08040" stroke-width="1.2" stroke-opacity="1"/>
<path d="M261.3 268.0 L263.3 269.8 L265.0 272.0 L268.0 272.9 L270.0 273.5 L272.5 272.3 L274.1 270.0 L272.5 268.4 L270.0 267.8 L266.9 268.6 L264.0 269.0" stroke="#5050d0" stroke-width="1.3" stroke-opacity="1"/>
<path d="M258.5 279.2 L260.4 277.3 L262.8 276.3 L267.0 275.0" stroke="#202020" stroke-width="1.2" stroke-opacity="1"/>
<path d="M261.3 288.4 L263.2 286.8 L263.8 283.6 L265.6 282.0 L267.2 280.0 L268.0 278.0" stroke="#306060" stroke-width="1.0" stroke-opacity="1"/>
<path d="M271.3 273.5 L272.0 276.3 L272.6 278.0 L273.0 281.0 L273.0 283.0 L273.5 284.9 L274.3 287.8 L274.9 290.0 L274.9 292.0 L275.8 294.3 L276.7 296.9 L278.0 299.3 L278.4 302.0" stroke="#e0d070" stroke-width="1.0" stroke-opacity="1"/>
<path d="M262.8 276.3 L264.7 278.0 L267.0 279.1 L268.4 280.6 L269.4 284.0 L271.3 286.3" stroke="#c0b080" stroke-width="1.0" stroke-opacity="1"/>
<path d="M282.7 276.3 L284.2 277.7 L285.6 280.3 L287.0 282.0" stroke="#40a0a0" stroke-width="1.0" stroke-opacity="1"/>
<path d="M288.4 265.0 L291.0 266.3 L292.6 267.9 L295.5 269.2" stroke="#90c0e0" stroke-width="1.0" stroke-opacity="1"/>
<path d="M279.8 276.3 L281.5 277.9 L284.0 280.0" stroke="#f0c090" stroke-width="1.0" stroke-opacity="0.8"/>
<path d="M268.0 262.0 L269.9 260.4 L271.0 258.0 L272.9 259.8 L274.0 262.0" stroke="#7050c0" stroke-width="1.0" stroke-opacity="1"/>
<path d="M275.0 268.0 L277.4 269.6 L279.0 271.6 L280.8 273.0 L283.0 275.0 L285.7 277.0 L287.5 278.1 L290.0 280.0 L292.5 282.4 L294.0 285.0" stroke="#e07030" stroke-width="1.0" stroke-opacity="1"/>
<path d="M268.0 270.0 L266.4 271.9 L263.8 273.6 L262.0 276.0 L260.8 278.0 L258.5 279.4 L257.0 281.0" stroke="#202020" stroke-width="1.1" stroke-opacity="1"/>
<path d="M272.0 270.0 L273.1 271.7 L275.1 273.4 L277.2 275.7 L278.5 277.0 L280.0 279.0 L282.2 280.6 L283.6 282.7 L286.0 285.0" stroke="#60b0b0" stroke-width="1.0" stroke-opacity="1"/>
<path d="M268.0 262.0 L266.8 260.3 L264.9 258.8 L263.4 256.7 L262.0 255.0 L259.9 253.3 L258.0 251.4 L256.0 250.0" stroke="#a0a0d0" stroke-width="1.0" stroke-opacity="0.8"/>
<path d="M331.0 236.7 L333.2 238.9 L334.4 240.6 L337.2 242.3 L338.7 243.1 L340.8 245.2 L343.0 246.3 L344.9 246.8 L347.7 247.1 L349.8 248.2 L351.8 248.3 L354.0 250.1 L356.5 251.2 L358.2 252.9 L360.3 253.8 L361.6 255.6 L363.5 257.4 L365.2 258.7 L366.3 260.6 L368.0 263.0" stroke="#80c8c0" stroke-width="1.0" stroke-opacity="1"/>
<path d="M337.1 247.7 L340.1 247.0 L343.2 247.1 L345.7 248.0 L347.5 250.0 L349.3 251.3 L351.1 253.1 L353.5 253.9 L354.7 254.7 L356.7 256.2 L358.5 258.2 L361.2 259.7 L362.8 261.1 L364.7 262.8 L367.0 264.0" stroke="#40a080" stroke-width="1.0" stroke-opacity="1"/>
<path d="M320.0 253.2 L322.3 252.7 L324.3 253.2 L326.8 253.0 L329.3 253.1 L331.5 252.5 L333.8 252.6 L335.7 252.6 L338.3 252.0 L340.7 252.1 L342.5 252.0 L345.2 251.8 L347.3 252.3 L350.1 252.4 L351.8 252.6 L354.8 252.8 L356.3 253.3 L358.9 253.3 L361.6 253.8 L364.0 256.1 L366.0 258.0" stroke="#98a898" stroke-width="1.0" stroke-opacity="1"/>
<path d="M334.7 255.0 L337.3 254.6 L339.2 254.3 L341.5 255.1 L344.4 254.4 L346.8 255.1 L349.1 256.5 L352.0 257.0" stroke="#b0d890" stroke-width="1.0" stroke-opacity="0.8"/>
<path d="M359.1 241.6 L359.3 244.0 L360.0 246.4 L361.0 248.3 L363.0 250.6 L364.0 252.6 L365.1 255.1 L367.0 258.0" stroke="#803030" stroke-width="1.0" stroke-opacity="1"/>
<path d="M366.5 244.0 L367.7 246.7 L368.0 250.0 L368.6 253.2 L370.0 256.0" stroke="#5058d0" stroke-width="1.0" stroke-opacity="1"/>
<path d="M370.1 246.4 L373.8 244.6" stroke="#6060d0" stroke-width="1.0" stroke-opacity="1"/>
<path d="M369.2 224.2 L371.1 225.4 L373.5 225.7 L373.9 228.5 L373.8 230.8 L373.8 232.4 L374.2 234.9 L375.9 237.5 L378.0 238.9 L379.2 241.3 L377.0 244.8 L375.4 245.4 L372.6 246.8 L370.7 247.7 L369.4 250.2 L369.2 252.0" stroke="#5040a0" stroke-width="1.1" stroke-opacity="1"/>
<path d="M399.1 256.2 L397.8 254.7 L396.2 253.0 L394.4 251.4 L392.7 249.1 L390.9 247.9 L388.2 246.8 L386.3 246.3 L384.2 247.3 L381.3 249.1 L380.0 251.6 L379.6 253.8 L378.5 256.2 L376.2 258.0 L374.2 260.5 L371.7 262.4 L370.0 264.0" stroke="#303030" stroke-width="1.2" stroke-opacity="1"/>
<path d="M395.5 247.7 L393.8 249.0 L391.5 250.6 L390.3 252.1 L388.4 253.4 L386.5 254.4 L383.5 255.3 L381.3 256.2 L379.1 257.7 L376.8 259.6 L374.0 261.0" stroke="#f0e080" stroke-width="1.0" stroke-opacity="0.9"/>
<path d="M394.1 259.0 L391.6 260.0 L388.4 262.0 L385.0 264.0" stroke="#9070c0" stroke-width="1.0" stroke-opacity="1"/>
<path d="M370.0 261.0 L373.0 258.0 L374.2 259.9 L375.0 262.0" stroke="#e0a040" stroke-width="1.2" stroke-opacity="1"/>
<path d="M360.0 261.0 L362.1 261.5 L364.0 263.0 L366.0 260.0" stroke="#40b040" stroke-width="1.0" stroke-opacity="1"/>
<path d="M362.0 268.0 L360.2 269.9 L358.8 271.6 L356.5 273.1 L355.6 275.9 L354.0 277.3 L352.0 279.3 L350.1 281.7 L348.5 283.4 L347.0 285.7 L345.6 287.6 L343.5 289.2 L343.5 291.9 L343.5 294.9" stroke="#909090" stroke-width="1.0" stroke-opacity="1"/>
<path d="M357.7 269.4 L358.3 271.5 L359.5 273.9 L359.9 276.3 L360.5 279.3 L360.8 281.7 L359.9 284.5 L359.8 286.2 L359.8 289.2 L359.1 291.2 L358.4 294.3 L358.9 296.5 L358.5 298.3 L357.7 300.6" stroke="#a0d0e0" stroke-width="1.0" stroke-opacity="1"/>
<path d="M363.4 268.0 L363.2 269.9 L363.5 272.4 L362.7 274.7 L363.2 276.7 L362.7 279.3 L364.2 281.8 L364.6 284.8 L365.5 287.1" stroke="#d070a0" stroke-width="1.0" stroke-opacity="1"/>
<path d="M371.9 270.8 L373.6 273.1 L376.2 275.0 L377.6 277.9 L379.6 279.8 L381.8 282.1 L382.6 283.9 L384.1 286.6 L384.7 288.7 L386.1 290.6" stroke="#303040" stroke-width="1.2" stroke-opacity="1"/>
<path d="M370.5 277.9 L372.2 279.2 L374.0 280.9 L375.5 282.9 L377.6 285.0 L377.9 288.1 L378.5 291.0 L379.0 293.5 L380.1 296.0 L380.4 297.7" stroke="#a0d080" stroke-width="1.0" stroke-opacity="1"/>
<path d="M380.4 268.0 L382.9 269.0 L384.5 270.4 L386.3 271.4 L388.9 272.2 L391.4 272.7 L392.7 274.8 L395.4 275.7 L397.4 276.4" stroke="#6090d0" stroke-width="1.0" stroke-opacity="1"/>
<path d="M356.3 266.5 L358.0 268.4 L359.6 269.2 L362.0 270.8" stroke="#3040a0" stroke-width="1.2" stroke-opacity="1"/>
<path d="M371.9 266.5 L373.0 268.9 L374.8 270.7 L376.2 272.2" stroke="#2090a0" stroke-width="1.0" stroke-opacity="1"/>
<path d="M386.1 263.7 L388.0 262.0 L390.6 260.4 L393.2 259.4" stroke="#8040c0" stroke-width="1.0" stroke-opacity="1"/>
<path d="M365.0 266.0 L368.0 269.0 L369.6 267.9 L372.0 267.0" stroke="#c08050" stroke-width="1.2" stroke-opacity="1"/>
<path d="M437.6 229.5 L438.3 231.5 L439.3 233.0 L440.8 235.5 L441.6 237.5 L445.0 239.2 L447.8 239.2 L449.8 239.5 L452.0 240.4 L454.1 240.9 L454.9 242.5 L456.4 244.9 L456.5 248.0 L457.5 251.1 L458.8 252.9 L459.8 255.7 L461.0 258.1 L462.0 261.0" stroke="#a0a0c0" stroke-width="1.0" stroke-opacity="1"/>
<path d="M441.6 250.0 L444.5 251.7 L446.7 254.0 L448.5 252.6 L450.1 251.1 L453.5 251.1 L455.7 251.9 L458.1 252.1 L459.8 253.4 L463.2 252.3" stroke="#606040" stroke-width="1.1" stroke-opacity="1"/>
<path d="M446.1 254.5 L446.2 256.9 L446.7 260.2" stroke="#707040" stroke-width="1.0" stroke-opacity="1"/>
<path d="M451.8 247.7 L453.6 250.0 L456.4 252.3 L458.1 254.0 L459.8 256.4 L461.0 258.0" stroke="#70b070" stroke-width="1.0" stroke-opacity="1"/>
<path d="M454.1 261.4 L456.6 262.1 L460.0 262.5 L462.6 262.8 L465.0 263.0" stroke="#90c0e8" stroke-width="1.0" stroke-opacity="1"/>
<path d="M458.8 235.5 L459.8 238.0 L461.3 240.5 L461.0 242.9 L461.7 245.2 L461.4 248.2 L461.9 250.5 L462.5 253.0 L462.5 255.6 L463.0 258.0" stroke="#f0e0a0" stroke-width="1.0" stroke-opacity="0.9"/>
<path d="M465.2 256.6 L467.1 256.1 L469.3 256.1 L472.0 256.0 L474.8 255.8 L477.7 255.5 L481.1 256.6 L482.3 258.3" stroke="#5060d0" stroke-width="1.0" stroke-opacity="1"/>
<path d="M466.4 261.1 L468.8 260.6 L470.4 260.7 L473.4 260.6 L476.0 259.6 L477.7 259.4 L480.0 259.6 L481.9 258.6 L484.5 258.8 L486.6 258.2 L489.1 258.3" stroke="#507090" stroke-width="1.0" stroke-opacity="1"/>
<path d="M466.4 265.7 L468.6 266.3 L471.6 265.5 L473.6 266.3 L476.3 266.4 L478.1 266.6 L480.7 266.5 L483.4 266.8 L486.2 266.5 L488.0 265.7" stroke="#70a0a0" stroke-width="1.0" stroke-opacity="1"/>
<path d="M483.4 266.8 L485.9 267.5 L489.1 269.1 L491.4 272.5" stroke="#a0e0c0" stroke-width="1.0" stroke-opacity="1"/>
<path d="M469.8 269.1 L472.3 269.7 L475.3 270.4 L477.7 271.4 L480.4 270.9 L482.3 270.2" stroke="#c0d060" stroke-width="1.0" stroke-opacity="1"/>
<path d="M463.0 260.0 L465.2 256.6 L468.0 256.1 L469.8 256.0" stroke="#e08020" stroke-width="1.2" stroke-opacity="1"/>
<path d="M461.0 262.0 L464.0 265.0 L466.0 268.0" stroke="#303030" stroke-width="1.4" stroke-opacity="1"/>
<path d="M464.1 267.1 L462.1 268.3 L460.4 269.9 L458.4 271.4 L456.6 271.9 L454.2 272.9 L451.3 274.2 L448.5 277.1 L449.0 279.2 L449.0 282.3 L449.2 284.9" stroke="#4040b0" stroke-width="1.1" stroke-opacity="1"/>
<path d="M464.1 268.5 L462.9 270.7 L461.0 272.5 L459.7 273.5 L458.4 275.6 L457.3 277.1 L455.7 279.1 L454.3 280.7 L452.8 282.8 L453.5 285.0 L455.1 288.0 L455.6 289.9 L457.2 292.1 L459.1 293.1 L460.7 295.1 L462.7 297.0 L464.5 298.4 L465.6 300.3 L467.7 302.0" stroke="#e0c050" stroke-width="1.0" stroke-opacity="1"/>
<path d="M461.3 271.4 L459.5 272.8 L457.7 274.2 L456.1 275.4 L454.5 277.2 L452.8 278.5" stroke="#c0a070" stroke-width="1.0" stroke-opacity="1"/>
<path d="M467.0 271.4 L468.8 272.4 L471.6 273.5 L473.2 274.1 L475.5 275.6 L476.8 278.1 L478.2 280.9 L479.8 282.8 L480.9 285.2 L481.4 288.1 L481.9 291.3 L481.8 294.3 L482.7 296.6 L482.7 299.2 L483.5 301.7 L484.0 304.0" stroke="#d03050" stroke-width="1.1" stroke-opacity="1"/>
<path d="M468.4 272.8 L470.6 274.2 L472.5 276.1 L475.4 277.2 L477.0 278.5 L478.4 281.3" stroke="#e060a0" stroke-width="1.0" stroke-opacity="1"/>
<path d="M469.8 274.2 L471.0 276.5 L470.8 278.7 L472.2 280.5 L472.7 282.8 L472.0 285.2 L471.7 287.4 L471.3 289.9" stroke="#a0d0a0" stroke-width="1.0" stroke-opacity="1"/>
<path d="M478.4 268.5 L481.2 268.5 L483.9 267.0 L486.9 267.1" stroke="#80c8c8" stroke-width="1.0" stroke-opacity="1"/>
<path d="M466.0 268.0 L466.3 269.9 L467.2 272.5 L468.4 274.2 L469.8 276.4" stroke="#a04040" stroke-width="1.2" stroke-opacity="1"/>
<path d="M465.0 266.0 L467.9 266.9 L470.0 268.0 L469.4 270.1 L468.0 272.0" stroke="#d06060" stroke-width="1.0" stroke-opacity="1"/>
<path d="M78.4 265.4 L79.6 262.9 L81.2 260.1 L83.0 259.4 L83.2 257.6" stroke="#e07070" stroke-width="0.9" stroke-opacity="0.85"/>
<path d="M79.3 265.0 L77.9 264.3 L75.9 264.8 L73.7 262.7 L70.6 262.8" stroke="#e0c050" stroke-width="0.9" stroke-opacity="0.85"/>
<path d="M79.9 265.8 L79.3 267.2 L76.3 268.9 L75.9 270.7 L76.3 272.5" stroke="#40a060" stroke-width="0.9" stroke-opacity="0.85"/>
<path d="M78.1 267.9 L76.5 269.5 L77.4 271.7 L76.1 273.2 L75.2 276.3" stroke="#c04060" stroke-width="0.9" stroke-opacity="0.85"/>
<path d="M77.4 266.7 L77.1 269.8 L77.0 272.0 L77.0 274.9 L80.0 276.6" stroke="#e07070" stroke-width="0.9" stroke-opacity="0.85"/>
<path d="M81.2 265.4 L79.1 266.5 L76.9 268.8 L75.0 271.0 L72.2 273.0" stroke="#5050d0" stroke-width="0.9" stroke-opacity="0.85"/>
<path d="M80.4 267.7 L82.1 266.2 L84.4 264.3 L84.3 261.3 L86.2 258.8" stroke="#d08040" stroke-width="0.9" stroke-opacity="0.85"/>
<path d="M175.0 267.4 L175.5 269.6 L177.3 270.6 L178.3 272.0 L178.6 274.0" stroke="#5050d0" stroke-width="0.9" stroke-opacity="0.85"/>
<path d="M175.8 266.4 L174.8 269.2 L176.5 271.3 L176.0 272.7 L174.3 274.1" stroke="#d08040" stroke-width="0.9" stroke-opacity="0.85"/>
<path d="M175.1 265.2 L175.5 266.7 L176.2 269.8 L178.9 271.1 L179.0 273.8" stroke="#6090d0" stroke-width="0.9" stroke-opacity="0.85"/>
<path d="M173.7 265.2 L173.3 267.3 L173.0 270.8 L170.3 272.8 L168.5 274.5" stroke="#8060c0" stroke-width="0.9" stroke-opacity="0.85"/>
<path d="M175.2 264.7 L175.0 266.9 L171.7 267.9 L169.2 267.8 L167.6 268.4" stroke="#e0c050" stroke-width="0.9" stroke-opacity="0.85"/>
<path d="M175.4 265.7 L173.8 268.3 L173.3 271.0 L175.0 272.2 L177.0 274.3" stroke="#6090d0" stroke-width="0.9" stroke-opacity="0.85"/>
<path d="M174.4 267.4 L176.0 266.0 L176.4 262.9 L176.5 259.8 L175.8 257.9" stroke="#40a0a0" stroke-width="0.9" stroke-opacity="0.85"/>
<path d="M272.9 266.6 L272.7 263.8 L274.2 261.0 L274.6 257.9 L277.1 256.4" stroke="#6090d0" stroke-width="0.9" stroke-opacity="0.85"/>
<path d="M273.4 266.1 L270.8 267.9 L268.6 266.9 L266.8 264.6 L266.5 262.8" stroke="#e0c050" stroke-width="0.9" stroke-opacity="0.85"/>
<path d="M271.7 267.7 L270.2 270.6 L270.6 274.1 L272.5 275.9 L273.5 277.6" stroke="#e07070" stroke-width="0.9" stroke-opacity="0.85"/>
<path d="M272.1 264.2 L271.0 265.4 L271.4 267.5 L272.8 268.6 L275.0 267.6" stroke="#40a060" stroke-width="0.9" stroke-opacity="0.85"/>
<path d="M272.3 264.3 L271.7 266.5 L272.1 269.9 L270.0 272.3 L267.6 273.2" stroke="#8060c0" stroke-width="0.9" stroke-opacity="0.85"/>
<path d="M271.8 265.2 L270.7 268.4 L271.1 270.6 L273.2 271.7 L275.2 273.3" stroke="#5050d0" stroke-width="0.9" stroke-opacity="0.85"/>
<path d="M270.2 266.4 L269.9 263.0 L270.3 260.8 L271.7 260.2 L272.2 257.6" stroke="#40a0a0" stroke-width="0.9" stroke-opacity="0.85"/>
<path d="M369.5 264.8 L371.4 263.4 L373.5 264.7 L376.1 266.0 L379.3 266.6" stroke="#e07070" stroke-width="0.9" stroke-opacity="0.85"/>
<path d="M369.7 264.5 L372.0 264.2 L374.9 262.4 L376.7 261.2 L378.0 260.2" stroke="#40a060" stroke-width="0.9" stroke-opacity="0.85"/>
<path d="M371.1 264.5 L373.0 263.2 L375.1 261.5 L375.7 259.2 L373.9 257.5" stroke="#e07070" stroke-width="0.9" stroke-opacity="0.85"/>
<path d="M370.2 264.6 L369.1 262.3 L370.5 259.4 L372.0 259.1 L372.9 257.3" stroke="#40a060" stroke-width="0.9" stroke-opacity="0.85"/>
<path d="M369.8 266.4 L372.6 265.9 L374.1 266.8 L376.2 265.3 L377.8 264.9" stroke="#e0c050" stroke-width="0.9" stroke-opacity="0.85"/>
<path d="M368.1 265.2 L369.7 262.8 L372.4 263.1 L374.3 265.7 L376.0 268.0" stroke="#303040" stroke-width="0.9" stroke-opacity="0.85"/>
<path d="M370.9 265.4 L370.3 264.0 L370.9 261.4 L372.3 259.4 L372.6 257.6" stroke="#c04060" stroke-width="0.9" stroke-opacity="0.85"/>
<path d="M465.4 267.4 L462.8 267.2 L461.2 269.8 L461.3 271.4 L464.2 273.1" stroke="#303040" stroke-width="0.9" stroke-opacity="0.85"/>
<path d="M464.7 267.4 L466.1 268.1 L466.7 270.0 L466.4 273.4 L465.4 274.9" stroke="#e0c050" stroke-width="0.9" stroke-opacity="0.85"/>
<path d="M464.6 265.3 L467.5 266.4 L469.0 265.3 L471.5 263.9 L473.5 264.1" stroke="#6090d0" stroke-width="0.9" stroke-opacity="0.85"/>
<path d="M464.1 266.5 L463.9 264.1 L462.6 261.8 L460.8 258.9 L459.6 257.8" stroke="#e07070" stroke-width="0.9" stroke-opacity="0.85"/>
<path d="M462.4 266.0 L461.0 263.8 L460.5 261.8 L460.2 259.9 L461.4 257.6" stroke="#6090d0" stroke-width="0.9" stroke-opacity="0.85"/>
<path d="M465.0 267.0 L463.5 267.9 L463.9 270.1 L463.8 271.6 L461.8 273.2" stroke="#40a060" stroke-width="0.9" stroke-opacity="0.85"/>
<path d="M462.8 267.0 L460.1 268.6 L460.4 271.6 L462.1 272.2 L462.4 275.1" stroke="#40a0a0" stroke-width="0.9" stroke-opacity="0.85"/>
</g>
<circle cx="79.4" cy="266" r="1.6" fill="#000"/>
</g></svg>
</body></html>
